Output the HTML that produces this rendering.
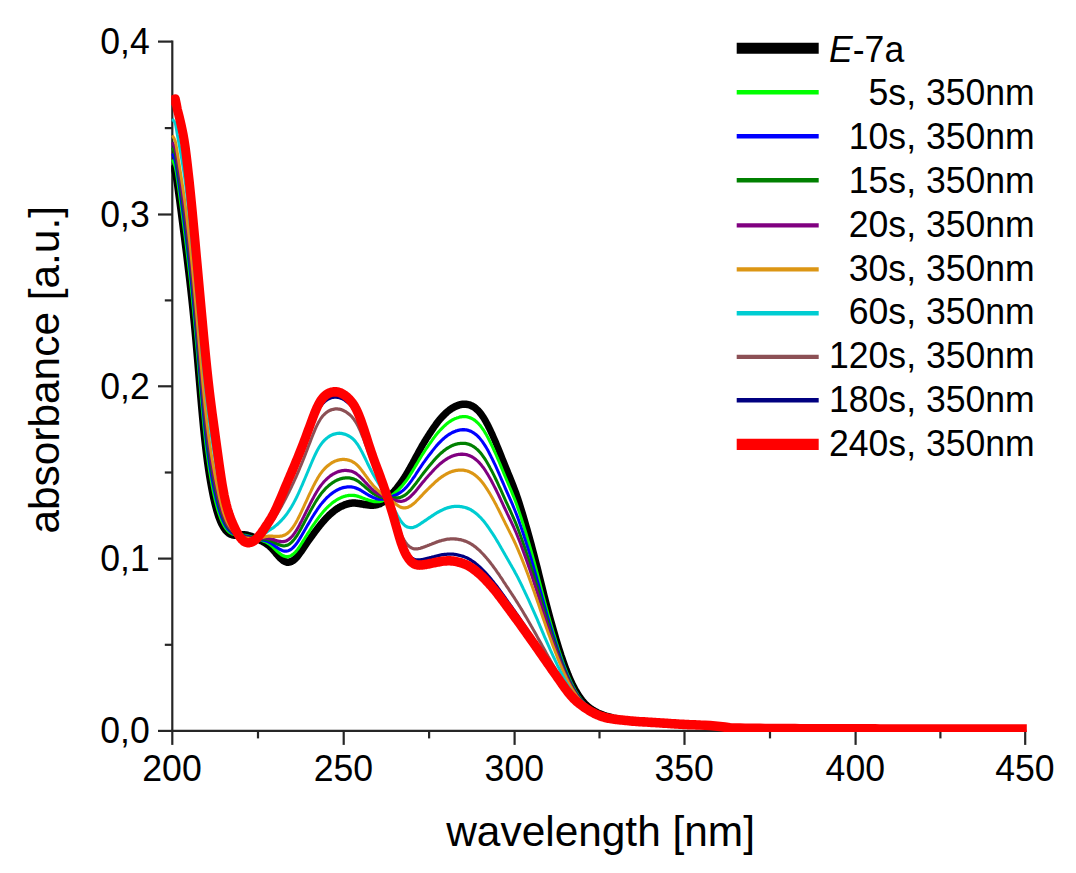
<!DOCTYPE html>
<html><head><meta charset="utf-8"><title>UV/Vis spectra</title>
<style>
html,body{margin:0;padding:0;background:#fff;}
body{width:1076px;height:873px;overflow:hidden;position:relative;}
svg text{font-family:"Liberation Sans",sans-serif;fill:#000;white-space:pre;}
</style></head><body>
<svg width="1076" height="873" viewBox="0 0 1076 873" style="position:absolute;left:0;top:0">
<rect width="1076" height="873" fill="#fff"/>
<g stroke="#262626" stroke-width="2.2" fill="none" stroke-linecap="butt">
<path d="M172.3,40.5 V732.0"/>
<path d="M171.20000000000002,730.9 H1026.3999999999999"/>
<path d="M172.3,730.9 v14"/>
<path d="M258.0,730.9 v7.5"/>
<path d="M343.7,730.9 v14"/>
<path d="M429.1,730.9 v7.5"/>
<path d="M514.6,730.9 v14"/>
<path d="M599.5,730.9 v7.5"/>
<path d="M684.5,730.9 v14"/>
<path d="M770.0,730.9 v7.5"/>
<path d="M855.6,730.9 v14"/>
<path d="M940.4,730.9 v7.5"/>
<path d="M1025.2,730.9 v14"/>
<path d="M172.3,730.9 h-14.3"/>
<path d="M172.3,644.8 h-7.5"/>
<path d="M172.3,558.6 h-14.3"/>
<path d="M172.3,472.5 h-7.5"/>
<path d="M172.3,386.3 h-14.3"/>
<path d="M172.3,300.4 h-7.5"/>
<path d="M172.3,214.5 h-14.3"/>
<path d="M172.3,128.1 h-7.5"/>
<path d="M172.3,41.6 h-14.3"/>
</g>
<clipPath id="cp"><rect x="171.2" y="30" width="855.6" height="702"/></clipPath>
<g clip-path="url(#cp)"><g fill="none" stroke-linejoin="round" stroke-linecap="butt" style="filter:blur(0.4px)">
<path transform="scale(1,1.13)" d="M172.3,146.0 L173.3,148.0 L174.3,150.5 L175.3,153.7 L176.3,158.1 L177.3,163.9 L178.3,170.4 L179.3,176.9 L180.3,183.6 L181.3,190.4 L182.3,197.2 L183.3,204.1 L184.3,211.0 L185.3,218.0 L186.3,225.0 L187.3,232.2 L188.3,239.6 L189.3,247.1 L190.3,254.8 L191.3,262.8 L192.3,271.2 L193.3,279.9 L194.3,289.1 L195.3,298.6 L196.3,308.4 L197.3,318.6 L198.3,329.0 L199.3,339.4 L200.3,349.8 L201.3,360.0 L202.3,369.8 L203.3,379.0 L204.3,387.6 L205.3,395.5 L206.3,402.8 L207.3,409.5 L208.3,415.6 L209.3,421.3 L210.3,426.6 L211.3,431.5 L212.3,436.1 L213.3,440.3 L214.3,444.2 L215.3,447.8 L216.3,451.1 L217.3,454.0 L218.3,456.8 L219.3,459.2 L220.3,461.3 L221.3,463.3 L222.3,465.0 L223.3,466.5 L224.3,467.8 L225.3,469.0 L226.3,470.0 L227.3,470.8 L228.3,471.6 L229.3,472.2 L230.3,472.7 L231.3,473.0 L232.3,473.3 L233.3,473.5 L234.3,473.6 L235.3,473.6 L236.3,473.6 L237.3,473.5 L238.3,473.5 L239.3,473.4 L240.3,473.3 L241.3,473.2 L242.3,473.2 L243.3,473.2 L244.3,473.2 L245.3,473.4 L246.3,473.5 L247.3,473.7 L248.3,473.9 L249.3,474.2 L250.3,474.4 L251.3,474.7 L252.3,475.0 L253.3,475.4 L254.3,475.7 L255.3,476.1 L256.3,476.4 L257.3,476.8 L258.3,477.2 L259.3,477.7 L260.3,478.1 L261.3,478.6 L262.3,479.0 L263.3,479.5 L264.3,480.0 L265.3,480.6 L266.3,481.2 L267.3,481.8 L268.3,482.5 L269.3,483.2 L270.3,484.0 L271.3,484.9 L272.3,485.9 L273.3,486.9 L274.3,487.9 L275.3,489.0 L276.3,490.0 L277.3,491.0 L278.3,492.0 L279.3,493.0 L280.3,493.9 L281.3,494.7 L282.3,495.4 L283.3,496.1 L284.3,496.6 L285.3,497.0 L286.3,497.3 L287.3,497.5 L288.3,497.5 L289.3,497.4 L290.3,497.2 L291.3,496.9 L292.3,496.4 L293.3,495.9 L294.3,495.2 L295.3,494.4 L296.3,493.5 L297.3,492.6 L298.3,491.5 L299.3,490.3 L300.3,489.1 L301.3,487.9 L302.3,486.6 L303.3,485.3 L304.3,484.0 L305.3,482.7 L306.3,481.4 L307.3,480.1 L308.3,478.8 L309.3,477.6 L310.3,476.3 L311.3,475.1 L312.3,473.9 L313.3,472.7 L314.3,471.5 L315.3,470.3 L316.3,469.1 L317.3,467.9 L318.3,466.8 L319.3,465.7 L320.3,464.5 L321.3,463.5 L322.3,462.4 L323.3,461.4 L324.3,460.4 L325.3,459.4 L326.3,458.4 L327.3,457.5 L328.3,456.6 L329.3,455.8 L330.3,455.0 L331.3,454.2 L332.3,453.4 L333.3,452.7 L334.3,452.0 L335.3,451.3 L336.3,450.7 L337.3,450.1 L338.3,449.6 L339.3,449.0 L340.3,448.5 L341.3,448.1 L342.3,447.7 L343.3,447.3 L344.3,446.9 L345.3,446.6 L346.3,446.3 L347.3,446.0 L348.3,445.8 L349.3,445.6 L350.3,445.4 L351.3,445.3 L352.3,445.2 L353.3,445.2 L354.3,445.2 L355.3,445.2 L356.3,445.3 L357.3,445.4 L358.3,445.5 L359.3,445.6 L360.3,445.8 L361.3,445.9 L362.3,446.1 L363.3,446.2 L364.3,446.4 L365.3,446.5 L366.3,446.6 L367.3,446.7 L368.3,446.8 L369.3,446.9 L370.3,447.0 L371.3,447.0 L372.3,447.0 L373.3,447.0 L374.3,446.9 L375.3,446.8 L376.3,446.7 L377.3,446.5 L378.3,446.2 L379.3,445.9 L380.3,445.6 L381.3,445.1 L382.3,444.6 L383.3,444.0 L384.3,443.3 L385.3,442.6 L386.3,441.8 L387.3,441.0 L388.3,440.2 L389.3,439.3 L390.3,438.4 L391.3,437.5 L392.3,436.6 L393.3,435.6 L394.3,434.6 L395.3,433.5 L396.3,432.5 L397.3,431.3 L398.3,430.2 L399.3,429.0 L400.3,427.8 L401.3,426.5 L402.3,425.2 L403.3,423.9 L404.3,422.6 L405.3,421.2 L406.3,419.7 L407.3,418.3 L408.3,416.7 L409.3,415.2 L410.3,413.6 L411.3,412.0 L412.3,410.4 L413.3,408.7 L414.3,407.1 L415.3,405.4 L416.3,403.8 L417.3,402.2 L418.3,400.5 L419.3,398.9 L420.3,397.3 L421.3,395.7 L422.3,394.2 L423.3,392.7 L424.3,391.2 L425.3,389.8 L426.3,388.3 L427.3,387.0 L428.3,385.6 L429.3,384.2 L430.3,382.9 L431.3,381.5 L432.3,380.2 L433.3,378.9 L434.3,377.6 L435.3,376.4 L436.3,375.1 L437.3,374.0 L438.3,372.8 L439.3,371.7 L440.3,370.7 L441.3,369.7 L442.3,368.7 L443.3,367.8 L444.3,366.9 L445.3,366.0 L446.3,365.2 L447.3,364.4 L448.3,363.7 L449.3,363.0 L450.3,362.3 L451.3,361.7 L452.3,361.2 L453.3,360.6 L454.3,360.2 L455.3,359.7 L456.3,359.3 L457.3,359.0 L458.3,358.6 L459.3,358.4 L460.3,358.1 L461.3,357.9 L462.3,357.8 L463.3,357.7 L464.3,357.7 L465.3,357.7 L466.3,357.8 L467.3,357.9 L468.3,358.1 L469.3,358.3 L470.3,358.6 L471.3,359.0 L472.3,359.4 L473.3,359.9 L474.3,360.5 L475.3,361.1 L476.3,361.9 L477.3,362.7 L478.3,363.5 L479.3,364.5 L480.3,365.6 L481.3,366.7 L482.3,368.0 L483.3,369.3 L484.3,370.7 L485.3,372.2 L486.3,373.8 L487.3,375.4 L488.3,377.2 L489.3,378.9 L490.3,380.8 L491.3,382.7 L492.3,384.6 L493.3,386.6 L494.3,388.6 L495.3,390.7 L496.3,392.7 L497.3,394.9 L498.3,397.0 L499.3,399.2 L500.3,401.4 L501.3,403.6 L502.3,405.9 L503.3,408.1 L504.3,410.3 L505.3,412.5 L506.3,414.7 L507.3,416.8 L508.3,419.0 L509.3,421.1 L510.3,423.3 L511.3,425.5 L512.3,427.7 L513.3,429.9 L514.3,432.2 L515.3,434.6 L516.3,437.0 L517.3,439.6 L518.3,442.2 L519.3,445.0 L520.3,447.8 L521.3,450.7 L522.3,453.6 L523.3,456.5 L524.3,459.5 L525.3,462.5 L526.3,465.6 L527.3,468.6 L528.3,471.8 L529.3,474.9 L530.3,478.2 L531.3,481.4 L532.3,484.8 L533.3,488.1 L534.3,491.5 L535.3,494.9 L536.3,498.4 L537.3,501.9 L538.3,505.4 L539.3,509.0 L540.3,512.6 L541.3,516.2 L542.3,519.8 L543.3,523.3 L544.3,526.9 L545.3,530.3 L546.3,533.8 L547.3,537.2 L548.3,540.5 L549.3,543.8 L550.3,547.1 L551.3,550.3 L552.3,553.5 L553.3,556.6 L554.3,559.7 L555.3,562.8 L556.3,565.8 L557.3,568.8 L558.3,571.7 L559.3,574.5 L560.3,577.3 L561.3,580.1 L562.3,582.7 L563.3,585.3 L564.3,587.8 L565.3,590.2 L566.3,592.6 L567.3,594.8 L568.3,597.1 L569.3,599.2 L570.3,601.2 L571.3,603.2 L572.3,605.1 L573.3,606.9 L574.3,608.7 L575.3,610.3 L576.3,611.9 L577.3,613.4 L578.3,614.9 L579.3,616.2 L580.3,617.5 L581.3,618.7 L582.3,619.9 L583.3,621.0 L584.3,622.0 L585.3,623.0 L586.3,623.9 L587.3,624.7 L588.3,625.5 L589.3,626.2 L590.3,626.9 L591.3,627.5 L592.3,628.1 L593.3,628.7 L594.3,629.2 L595.3,629.7 L596.3,630.2 L597.3,630.6 L598.3,631.1 L599.3,631.5 L600.3,631.8 L601.3,632.2 L602.3,632.5 L603.3,632.9 L604.3,633.2 L605.3,633.5 L606.3,633.8 L607.3,634.0 L608.3,634.3 L609.3,634.5 L610.3,634.8 L611.3,635.0 L612.3,635.2 L613.3,635.5 L614.3,635.7 L615.3,635.9 L616.3,636.1 L617.3,636.3 L618.3,636.4 L619.3,636.6 L620.3,636.8 L621.3,637.0 L622.3,637.1 L623.3,637.3 L624.3,637.4 L625.3,637.6 L626.3,637.7 L627.3,637.8 L628.3,637.9 L629.3,638.0 L630.3,638.1 L631.3,638.2 L632.3,638.3 L633.3,638.3 L634.3,638.4 L635.3,638.5 L636.3,638.5 L637.3,638.6 L638.3,638.6 L639.3,638.7 L640.3,638.8 L641.3,638.8 L642.3,638.9 L643.3,638.9 L644.3,639.0 L645.3,639.0 L646.3,639.1 L647.3,639.1 L648.3,639.2 L649.3,639.3 L650.3,639.3 L651.3,639.4 L652.3,639.4 L653.3,639.5 L654.3,639.5 L655.3,639.6 L656.3,639.6 L657.3,639.7 L658.3,639.7 L659.3,639.8 L660.3,639.8 L661.3,639.9 L662.3,640.0 L663.3,640.0 L664.3,640.1 L665.3,640.1 L666.3,640.2 L667.3,640.2 L668.3,640.3 L669.3,640.3 L670.3,640.4 L671.3,640.4 L672.3,640.5 L673.3,640.5 L674.3,640.6 L675.3,640.6 L676.3,640.7 L677.3,640.8 L678.3,640.8 L679.3,640.9 L680.3,640.9 L681.3,641.0 L682.3,641.0 L683.3,641.1 L684.3,641.1 L685.3,641.1 L686.3,641.2 L687.3,641.2 L688.3,641.3 L689.3,641.3 L690.3,641.3 L691.3,641.4 L692.3,641.4 L693.3,641.4 L694.3,641.4 L695.3,641.5 L696.3,641.5 L697.3,641.5 L698.3,641.5 L699.3,641.5 L700.0,641.6 L705.0,641.8 L710.0,642.1 L715.0,642.6 L720.0,643.0 L725.0,643.5 L730.0,643.9 L735.0,644.2 L740.0,644.3 L745.0,644.4 L750.0,644.5 L755.0,644.6 L760.0,644.6 L765.0,644.7 L770.0,644.7 L775.0,644.8 L780.0,644.8 L785.0,644.8 L790.0,644.8 L795.0,644.8 L800.0,644.8 L805.0,644.8 L810.0,644.9 L815.0,644.9 L820.0,644.9 L825.0,644.9 L830.0,644.9 L835.0,644.9 L840.0,644.9 L845.0,644.9 L850.0,645.0 L855.0,645.0 L860.0,645.0 L865.0,645.0 L870.0,645.0 L875.0,645.0 L880.0,645.0 L885.0,645.0 L890.0,645.0 L895.0,645.0 L900.0,645.0 L905.0,645.1 L910.0,645.1 L915.0,645.1 L920.0,645.1 L925.0,645.1 L930.0,645.1 L935.0,645.1 L940.0,645.1 L945.0,645.1 L950.0,645.1 L955.0,645.1 L960.0,645.1 L965.0,645.1 L970.0,645.1 L975.0,645.1 L980.0,645.1 L985.0,645.1 L990.0,645.2 L995.0,645.2 L1000.0,645.2 L1005.0,645.2 L1010.0,645.2 L1015.0,645.2 L1020.0,645.2 L1025.0,645.2 L1027.0,645.2" stroke="#000000" stroke-width="6.7"/>
<path transform="scale(1,1.13)" d="M172.3,141.1 L173.3,143.0 L174.3,145.3 L175.3,148.3 L176.3,152.7 L177.3,158.5 L178.3,164.7 L179.3,171.1 L180.3,177.6 L181.3,184.2 L182.3,190.8 L183.3,197.5 L184.3,204.2 L185.3,211.1 L186.3,218.2 L187.3,225.4 L188.3,232.8 L189.3,240.3 L190.3,248.1 L191.3,256.2 L192.3,264.6 L193.3,273.4 L194.3,282.6 L195.3,292.1 L196.3,302.0 L197.3,312.1 L198.3,322.4 L199.3,332.8 L200.3,343.2 L201.3,353.3 L202.3,363.0 L203.3,372.3 L204.3,381.0 L205.3,389.0 L206.3,396.4 L207.3,403.2 L208.3,409.5 L209.3,415.4 L210.3,420.8 L211.3,425.9 L212.3,430.6 L213.3,435.0 L214.3,439.1 L215.3,442.9 L216.3,446.5 L217.3,449.7 L218.3,452.7 L219.3,455.4 L220.3,457.9 L221.3,460.2 L222.3,462.2 L223.3,463.9 L224.3,465.5 L225.3,466.9 L226.3,468.1 L227.3,469.2 L228.3,470.1 L229.3,470.9 L230.3,471.5 L231.3,472.0 L232.3,472.5 L233.3,472.8 L234.3,473.0 L235.3,473.2 L236.3,473.3 L237.3,473.4 L238.3,473.4 L239.3,473.5 L240.3,473.5 L241.3,473.5 L242.3,473.5 L243.3,473.6 L244.3,473.7 L245.3,473.8 L246.3,474.0 L247.3,474.2 L248.3,474.4 L249.3,474.6 L250.3,474.9 L251.3,475.1 L252.3,475.4 L253.3,475.6 L254.3,475.9 L255.3,476.2 L256.3,476.5 L257.3,476.8 L258.3,477.1 L259.3,477.4 L260.3,477.7 L261.3,478.0 L262.3,478.4 L263.3,478.7 L264.3,479.1 L265.3,479.5 L266.3,479.9 L267.3,480.4 L268.3,481.0 L269.3,481.6 L270.3,482.2 L271.3,482.9 L272.3,483.7 L273.3,484.6 L274.3,485.4 L275.3,486.3 L276.3,487.1 L277.3,488.0 L278.3,488.8 L279.3,489.5 L280.3,490.2 L281.3,490.9 L282.3,491.4 L283.3,491.9 L284.3,492.2 L285.3,492.5 L286.3,492.6 L287.3,492.7 L288.3,492.6 L289.3,492.3 L290.3,492.0 L291.3,491.5 L292.3,490.9 L293.3,490.3 L294.3,489.5 L295.3,488.6 L296.3,487.6 L297.3,486.5 L298.3,485.3 L299.3,484.0 L300.3,482.7 L301.3,481.3 L302.3,479.9 L303.3,478.5 L304.3,477.1 L305.3,475.6 L306.3,474.2 L307.3,472.8 L308.3,471.4 L309.3,470.1 L310.3,468.7 L311.3,467.3 L312.3,466.0 L313.3,464.7 L314.3,463.4 L315.3,462.1 L316.3,460.8 L317.3,459.6 L318.3,458.4 L319.3,457.2 L320.3,456.1 L321.3,454.9 L322.3,453.9 L323.3,452.8 L324.3,451.8 L325.3,450.9 L326.3,449.9 L327.3,449.0 L328.3,448.2 L329.3,447.4 L330.3,446.6 L331.3,445.8 L332.3,445.1 L333.3,444.4 L334.3,443.8 L335.3,443.2 L336.3,442.6 L337.3,442.1 L338.3,441.6 L339.3,441.1 L340.3,440.7 L341.3,440.3 L342.3,439.9 L343.3,439.6 L344.3,439.3 L345.3,439.1 L346.3,438.8 L347.3,438.7 L348.3,438.5 L349.3,438.4 L350.3,438.3 L351.3,438.3 L352.3,438.3 L353.3,438.4 L354.3,438.5 L355.3,438.6 L356.3,438.8 L357.3,439.0 L358.3,439.3 L359.3,439.6 L360.3,439.9 L361.3,440.2 L362.3,440.6 L363.3,440.9 L364.3,441.2 L365.3,441.6 L366.3,441.9 L367.3,442.2 L368.3,442.5 L369.3,442.8 L370.3,443.1 L371.3,443.3 L372.3,443.5 L373.3,443.7 L374.3,443.9 L375.3,444.0 L376.3,444.0 L377.3,444.0 L378.3,444.0 L379.3,443.9 L380.3,443.7 L381.3,443.5 L382.3,443.2 L383.3,442.8 L384.3,442.4 L385.3,442.0 L386.3,441.5 L387.3,440.9 L388.3,440.3 L389.3,439.7 L390.3,439.1 L391.3,438.5 L392.3,437.9 L393.3,437.2 L394.3,436.6 L395.3,435.8 L396.3,435.1 L397.3,434.3 L398.3,433.5 L399.3,432.6 L400.3,431.7 L401.3,430.8 L402.3,429.8 L403.3,428.7 L404.3,427.6 L405.3,426.5 L406.3,425.3 L407.3,424.1 L408.3,422.8 L409.3,421.4 L410.3,420.0 L411.3,418.6 L412.3,417.2 L413.3,415.7 L414.3,414.3 L415.3,412.8 L416.3,411.3 L417.3,409.8 L418.3,408.3 L419.3,406.8 L420.3,405.3 L421.3,403.9 L422.3,402.4 L423.3,401.0 L424.3,399.7 L425.3,398.3 L426.3,397.0 L427.3,395.7 L428.3,394.4 L429.3,393.2 L430.3,391.9 L431.3,390.7 L432.3,389.4 L433.3,388.2 L434.3,387.0 L435.3,385.8 L436.3,384.7 L437.3,383.6 L438.3,382.5 L439.3,381.5 L440.3,380.5 L441.3,379.6 L442.3,378.7 L443.3,377.8 L444.3,377.0 L445.3,376.2 L446.3,375.4 L447.3,374.7 L448.3,374.0 L449.3,373.4 L450.3,372.8 L451.3,372.2 L452.3,371.7 L453.3,371.2 L454.3,370.8 L455.3,370.4 L456.3,370.1 L457.3,369.7 L458.3,369.5 L459.3,369.2 L460.3,369.0 L461.3,368.9 L462.3,368.8 L463.3,368.7 L464.3,368.7 L465.3,368.7 L466.3,368.8 L467.3,369.0 L468.3,369.2 L469.3,369.5 L470.3,369.8 L471.3,370.2 L472.3,370.6 L473.3,371.1 L474.3,371.7 L475.3,372.3 L476.3,373.1 L477.3,373.9 L478.3,374.7 L479.3,375.7 L480.3,376.7 L481.3,377.9 L482.3,379.1 L483.3,380.4 L484.3,381.7 L485.3,383.2 L486.3,384.7 L487.3,386.3 L488.3,388.0 L489.3,389.7 L490.3,391.5 L491.3,393.3 L492.3,395.2 L493.3,397.1 L494.3,399.0 L495.3,401.0 L496.3,403.0 L497.3,405.0 L498.3,407.1 L499.3,409.2 L500.3,411.3 L501.3,413.5 L502.3,415.6 L503.3,417.8 L504.3,419.9 L505.3,422.0 L506.3,424.1 L507.3,426.2 L508.3,428.3 L509.3,430.4 L510.3,432.5 L511.3,434.5 L512.3,436.7 L513.3,438.8 L514.3,441.0 L515.3,443.3 L516.3,445.7 L517.3,448.1 L518.3,450.7 L519.3,453.3 L520.3,456.0 L521.3,458.7 L522.3,461.5 L523.3,464.3 L524.3,467.2 L525.3,470.0 L526.3,472.9 L527.3,475.9 L528.3,478.9 L529.3,481.9 L530.3,485.0 L531.3,488.1 L532.3,491.2 L533.3,494.4 L534.3,497.6 L535.3,500.9 L536.3,504.2 L537.3,507.5 L538.3,510.9 L539.3,514.3 L540.3,517.7 L541.3,521.1 L542.3,524.5 L543.3,527.9 L544.3,531.2 L545.3,534.5 L546.3,537.8 L547.3,541.0 L548.3,544.2 L549.3,547.4 L550.3,550.5 L551.3,553.5 L552.3,556.6 L553.3,559.5 L554.3,562.5 L555.3,565.4 L556.3,568.3 L557.3,571.1 L558.3,573.9 L559.3,576.7 L560.3,579.3 L561.3,581.9 L562.3,584.5 L563.3,587.0 L564.3,589.4 L565.3,591.7 L566.3,594.0 L567.3,596.2 L568.3,598.3 L569.3,600.3 L570.3,602.3 L571.3,604.2 L572.3,606.0 L573.3,607.8 L574.3,609.5 L575.3,611.1 L576.3,612.6 L577.3,614.0 L578.3,615.4 L579.3,616.7 L580.3,618.0 L581.3,619.2 L582.3,620.3 L583.3,621.3 L584.3,622.3 L585.3,623.3 L586.3,624.1 L587.3,624.9 L588.3,625.7 L589.3,626.4 L590.3,627.1 L591.3,627.7 L592.3,628.3 L593.3,628.8 L594.3,629.4 L595.3,629.9 L596.3,630.3 L597.3,630.8 L598.3,631.2 L599.3,631.6 L600.3,632.0 L601.3,632.3 L602.3,632.7 L603.3,633.0 L604.3,633.3 L605.3,633.6 L606.3,633.9 L607.3,634.1 L608.3,634.4 L609.3,634.6 L610.3,634.9 L611.3,635.1 L612.3,635.3 L613.3,635.5 L614.3,635.7 L615.3,635.9 L616.3,636.1 L617.3,636.3 L618.3,636.5 L619.3,636.7 L620.3,636.8 L621.3,637.0 L622.3,637.1 L623.3,637.3 L624.3,637.4 L625.3,637.6 L626.3,637.7 L627.3,637.8 L628.3,637.9 L629.3,638.0 L630.3,638.1 L631.3,638.2 L632.3,638.3 L633.3,638.3 L634.3,638.4 L635.3,638.5 L636.3,638.5 L637.3,638.6 L638.3,638.6 L639.3,638.7 L640.3,638.8 L641.3,638.8 L642.3,638.9 L643.3,638.9 L644.3,639.0 L645.3,639.0 L646.3,639.1 L647.3,639.1 L648.3,639.2 L649.3,639.2 L650.3,639.3 L651.3,639.4 L652.3,639.4 L653.3,639.5 L654.3,639.5 L655.3,639.6 L656.3,639.6 L657.3,639.7 L658.3,639.7 L659.3,639.8 L660.3,639.8 L661.3,639.9 L662.3,639.9 L663.3,640.0 L664.3,640.1 L665.3,640.1 L666.3,640.2 L667.3,640.2 L668.3,640.3 L669.3,640.3 L670.3,640.4 L671.3,640.4 L672.3,640.5 L673.3,640.5 L674.3,640.6 L675.3,640.6 L676.3,640.7 L677.3,640.8 L678.3,640.8 L679.3,640.9 L680.3,640.9 L681.3,641.0 L682.3,641.0 L683.3,641.1 L684.3,641.1 L685.3,641.1 L686.3,641.2 L687.3,641.2 L688.3,641.3 L689.3,641.3 L690.3,641.3 L691.3,641.4 L692.3,641.4 L693.3,641.4 L694.3,641.4 L695.3,641.5 L696.3,641.5 L697.3,641.5 L698.3,641.5 L699.3,641.5 L700.0,641.6 L705.0,641.8 L710.0,642.1 L715.0,642.6 L720.0,643.0 L725.0,643.5 L730.0,643.9 L735.0,644.2 L740.0,644.3 L745.0,644.4 L750.0,644.5 L755.0,644.6 L760.0,644.6 L765.0,644.7 L770.0,644.7 L775.0,644.8 L780.0,644.8 L785.0,644.8 L790.0,644.8 L795.0,644.8 L800.0,644.8 L805.0,644.8 L810.0,644.9 L815.0,644.9 L820.0,644.9 L825.0,644.9 L830.0,644.9 L835.0,644.9 L840.0,644.9 L845.0,644.9 L850.0,645.0 L855.0,645.0 L860.0,645.0 L865.0,645.0 L870.0,645.0 L875.0,645.0 L880.0,645.0 L885.0,645.0 L890.0,645.0 L895.0,645.0 L900.0,645.0 L905.0,645.1 L910.0,645.1 L915.0,645.1 L920.0,645.1 L925.0,645.1 L930.0,645.1 L935.0,645.1 L940.0,645.1 L945.0,645.1 L950.0,645.1 L955.0,645.1 L960.0,645.1 L965.0,645.1 L970.0,645.1 L975.0,645.1 L980.0,645.1 L985.0,645.1 L990.0,645.2 L995.0,645.2 L1000.0,645.2 L1005.0,645.2 L1010.0,645.2 L1015.0,645.2 L1020.0,645.2 L1025.0,645.2 L1027.0,645.2" stroke="#00ff00" stroke-width="2.9"/>
<path transform="scale(1,1.13)" d="M172.3,135.9 L173.3,137.7 L174.3,139.8 L175.3,142.6 L176.3,147.1 L177.3,152.8 L178.3,158.8 L179.3,164.9 L180.3,171.2 L181.3,177.6 L182.3,184.0 L183.3,190.5 L184.3,197.1 L185.3,203.9 L186.3,211.0 L187.3,218.2 L188.3,225.6 L189.3,233.2 L190.3,241.1 L191.3,249.3 L192.3,257.8 L193.3,266.6 L194.3,275.8 L195.3,285.3 L196.3,295.2 L197.3,305.2 L198.3,315.5 L199.3,325.9 L200.3,336.2 L201.3,346.2 L202.3,356.0 L203.3,365.3 L204.3,374.0 L205.3,382.1 L206.3,389.7 L207.3,396.7 L208.3,403.1 L209.3,409.2 L210.3,414.8 L211.3,420.0 L212.3,424.9 L213.3,429.5 L214.3,433.8 L215.3,437.8 L216.3,441.6 L217.3,445.2 L218.3,448.5 L219.3,451.5 L220.3,454.3 L221.3,456.9 L222.3,459.2 L223.3,461.3 L224.3,463.1 L225.3,464.8 L226.3,466.2 L227.3,467.5 L228.3,468.6 L229.3,469.5 L230.3,470.3 L231.3,471.0 L232.3,471.6 L233.3,472.0 L234.3,472.4 L235.3,472.8 L236.3,473.0 L237.3,473.2 L238.3,473.4 L239.3,473.5 L240.3,473.7 L241.3,473.8 L242.3,473.9 L243.3,474.0 L244.3,474.2 L245.3,474.4 L246.3,474.5 L247.3,474.7 L248.3,474.9 L249.3,475.1 L250.3,475.3 L251.3,475.5 L252.3,475.7 L253.3,475.9 L254.3,476.1 L255.3,476.3 L256.3,476.5 L257.3,476.7 L258.3,476.9 L259.3,477.1 L260.3,477.3 L261.3,477.5 L262.3,477.7 L263.3,477.9 L264.3,478.1 L265.3,478.4 L266.3,478.7 L267.3,479.0 L268.3,479.4 L269.3,479.8 L270.3,480.3 L271.3,480.9 L272.3,481.5 L273.3,482.1 L274.3,482.8 L275.3,483.4 L276.3,484.1 L277.3,484.7 L278.3,485.3 L279.3,485.9 L280.3,486.4 L281.3,486.8 L282.3,487.2 L283.3,487.5 L284.3,487.7 L285.3,487.8 L286.3,487.8 L287.3,487.6 L288.3,487.4 L289.3,487.0 L290.3,486.5 L291.3,485.9 L292.3,485.2 L293.3,484.4 L294.3,483.4 L295.3,482.4 L296.3,481.3 L297.3,480.1 L298.3,478.8 L299.3,477.4 L300.3,475.9 L301.3,474.4 L302.3,472.9 L303.3,471.4 L304.3,469.8 L305.3,468.3 L306.3,466.7 L307.3,465.2 L308.3,463.7 L309.3,462.2 L310.3,460.7 L311.3,459.2 L312.3,457.7 L313.3,456.3 L314.3,454.9 L315.3,453.5 L316.3,452.2 L317.3,450.8 L318.3,449.6 L319.3,448.3 L320.3,447.1 L321.3,446.0 L322.3,444.9 L323.3,443.9 L324.3,442.9 L325.3,441.9 L326.3,441.0 L327.3,440.1 L328.3,439.3 L329.3,438.5 L330.3,437.8 L331.3,437.1 L332.3,436.4 L333.3,435.7 L334.3,435.2 L335.3,434.6 L336.3,434.1 L337.3,433.6 L338.3,433.2 L339.3,432.8 L340.3,432.4 L341.3,432.1 L342.3,431.8 L343.3,431.5 L344.3,431.3 L345.3,431.2 L346.3,431.0 L347.3,430.9 L348.3,430.9 L349.3,430.8 L350.3,430.8 L351.3,430.9 L352.3,431.0 L353.3,431.2 L354.3,431.4 L355.3,431.7 L356.3,432.0 L357.3,432.4 L358.3,432.8 L359.3,433.2 L360.3,433.7 L361.3,434.2 L362.3,434.8 L363.3,435.3 L364.3,435.9 L365.3,436.4 L366.3,437.0 L367.3,437.5 L368.3,438.0 L369.3,438.6 L370.3,439.0 L371.3,439.5 L372.3,439.9 L373.3,440.3 L374.3,440.6 L375.3,440.9 L376.3,441.2 L377.3,441.4 L378.3,441.6 L379.3,441.7 L380.3,441.8 L381.3,441.8 L382.3,441.7 L383.3,441.6 L384.3,441.5 L385.3,441.3 L386.3,441.1 L387.3,440.8 L388.3,440.5 L389.3,440.2 L390.3,439.9 L391.3,439.6 L392.3,439.3 L393.3,439.0 L394.3,438.6 L395.3,438.2 L396.3,437.8 L397.3,437.4 L398.3,436.9 L399.3,436.4 L400.3,435.8 L401.3,435.2 L402.3,434.5 L403.3,433.8 L404.3,433.0 L405.3,432.1 L406.3,431.2 L407.3,430.2 L408.3,429.1 L409.3,428.0 L410.3,426.8 L411.3,425.6 L412.3,424.4 L413.3,423.1 L414.3,421.8 L415.3,420.5 L416.3,419.1 L417.3,417.8 L418.3,416.4 L419.3,415.1 L420.3,413.8 L421.3,412.4 L422.3,411.1 L423.3,409.8 L424.3,408.6 L425.3,407.3 L426.3,406.1 L427.3,404.9 L428.3,403.7 L429.3,402.6 L430.3,401.4 L431.3,400.3 L432.3,399.1 L433.3,398.0 L434.3,396.9 L435.3,395.8 L436.3,394.7 L437.3,393.7 L438.3,392.7 L439.3,391.8 L440.3,390.9 L441.3,390.0 L442.3,389.2 L443.3,388.4 L444.3,387.6 L445.3,386.9 L446.3,386.2 L447.3,385.5 L448.3,384.9 L449.3,384.3 L450.3,383.8 L451.3,383.3 L452.3,382.8 L453.3,382.4 L454.3,382.0 L455.3,381.7 L456.3,381.3 L457.3,381.1 L458.3,380.8 L459.3,380.6 L460.3,380.5 L461.3,380.4 L462.3,380.3 L463.3,380.3 L464.3,380.3 L465.3,380.4 L466.3,380.5 L467.3,380.7 L468.3,380.9 L469.3,381.2 L470.3,381.5 L471.3,381.9 L472.3,382.4 L473.3,382.9 L474.3,383.5 L475.3,384.1 L476.3,384.8 L477.3,385.6 L478.3,386.5 L479.3,387.4 L480.3,388.5 L481.3,389.6 L482.3,390.7 L483.3,392.0 L484.3,393.3 L485.3,394.7 L486.3,396.2 L487.3,397.7 L488.3,399.3 L489.3,401.0 L490.3,402.7 L491.3,404.5 L492.3,406.2 L493.3,408.1 L494.3,409.9 L495.3,411.8 L496.3,413.8 L497.3,415.7 L498.3,417.7 L499.3,419.7 L500.3,421.8 L501.3,423.8 L502.3,425.9 L503.3,427.9 L504.3,430.0 L505.3,432.0 L506.3,434.1 L507.3,436.1 L508.3,438.1 L509.3,440.1 L510.3,442.1 L511.3,444.1 L512.3,446.1 L513.3,448.2 L514.3,450.3 L515.3,452.5 L516.3,454.8 L517.3,457.1 L518.3,459.5 L519.3,462.0 L520.3,464.6 L521.3,467.2 L522.3,469.8 L523.3,472.5 L524.3,475.2 L525.3,477.9 L526.3,480.7 L527.3,483.5 L528.3,486.3 L529.3,489.2 L530.3,492.1 L531.3,495.0 L532.3,498.0 L533.3,501.0 L534.3,504.1 L535.3,507.2 L536.3,510.3 L537.3,513.4 L538.3,516.6 L539.3,519.8 L540.3,523.0 L541.3,526.2 L542.3,529.4 L543.3,532.6 L544.3,535.8 L545.3,538.9 L546.3,542.0 L547.3,545.1 L548.3,548.1 L549.3,551.1 L550.3,554.0 L551.3,556.9 L552.3,559.8 L553.3,562.6 L554.3,565.4 L555.3,568.2 L556.3,570.9 L557.3,573.6 L558.3,576.3 L559.3,578.9 L560.3,581.5 L561.3,583.9 L562.3,586.4 L563.3,588.7 L564.3,591.0 L565.3,593.3 L566.3,595.4 L567.3,597.5 L568.3,599.6 L569.3,601.6 L570.3,603.4 L571.3,605.3 L572.3,607.0 L573.3,608.7 L574.3,610.3 L575.3,611.8 L576.3,613.3 L577.3,614.7 L578.3,616.0 L579.3,617.3 L580.3,618.5 L581.3,619.6 L582.3,620.7 L583.3,621.7 L584.3,622.6 L585.3,623.5 L586.3,624.4 L587.3,625.2 L588.3,625.9 L589.3,626.6 L590.3,627.3 L591.3,627.9 L592.3,628.5 L593.3,629.0 L594.3,629.5 L595.3,630.0 L596.3,630.5 L597.3,630.9 L598.3,631.4 L599.3,631.8 L600.3,632.1 L601.3,632.5 L602.3,632.8 L603.3,633.1 L604.3,633.4 L605.3,633.7 L606.3,634.0 L607.3,634.2 L608.3,634.5 L609.3,634.7 L610.3,635.0 L611.3,635.2 L612.3,635.4 L613.3,635.6 L614.3,635.8 L615.3,636.0 L616.3,636.2 L617.3,636.3 L618.3,636.5 L619.3,636.7 L620.3,636.8 L621.3,637.0 L622.3,637.2 L623.3,637.3 L624.3,637.4 L625.3,637.6 L626.3,637.7 L627.3,637.8 L628.3,637.9 L629.3,638.0 L630.3,638.1 L631.3,638.2 L632.3,638.3 L633.3,638.3 L634.3,638.4 L635.3,638.5 L636.3,638.5 L637.3,638.6 L638.3,638.6 L639.3,638.7 L640.3,638.7 L641.3,638.8 L642.3,638.9 L643.3,638.9 L644.3,639.0 L645.3,639.0 L646.3,639.1 L647.3,639.1 L648.3,639.2 L649.3,639.2 L650.3,639.3 L651.3,639.3 L652.3,639.4 L653.3,639.5 L654.3,639.5 L655.3,639.6 L656.3,639.6 L657.3,639.7 L658.3,639.7 L659.3,639.8 L660.3,639.8 L661.3,639.9 L662.3,639.9 L663.3,640.0 L664.3,640.0 L665.3,640.1 L666.3,640.2 L667.3,640.2 L668.3,640.3 L669.3,640.3 L670.3,640.4 L671.3,640.4 L672.3,640.5 L673.3,640.5 L674.3,640.6 L675.3,640.6 L676.3,640.7 L677.3,640.7 L678.3,640.8 L679.3,640.9 L680.3,640.9 L681.3,641.0 L682.3,641.0 L683.3,641.1 L684.3,641.1 L685.3,641.1 L686.3,641.2 L687.3,641.2 L688.3,641.3 L689.3,641.3 L690.3,641.3 L691.3,641.4 L692.3,641.4 L693.3,641.4 L694.3,641.4 L695.3,641.5 L696.3,641.5 L697.3,641.5 L698.3,641.5 L699.3,641.5 L700.0,641.6 L705.0,641.8 L710.0,642.1 L715.0,642.6 L720.0,643.0 L725.0,643.5 L730.0,643.9 L735.0,644.2 L740.0,644.3 L745.0,644.4 L750.0,644.5 L755.0,644.6 L760.0,644.6 L765.0,644.7 L770.0,644.7 L775.0,644.8 L780.0,644.8 L785.0,644.8 L790.0,644.8 L795.0,644.8 L800.0,644.8 L805.0,644.8 L810.0,644.9 L815.0,644.9 L820.0,644.9 L825.0,644.9 L830.0,644.9 L835.0,644.9 L840.0,644.9 L845.0,644.9 L850.0,645.0 L855.0,645.0 L860.0,645.0 L865.0,645.0 L870.0,645.0 L875.0,645.0 L880.0,645.0 L885.0,645.0 L890.0,645.0 L895.0,645.0 L900.0,645.0 L905.0,645.1 L910.0,645.1 L915.0,645.1 L920.0,645.1 L925.0,645.1 L930.0,645.1 L935.0,645.1 L940.0,645.1 L945.0,645.1 L950.0,645.1 L955.0,645.1 L960.0,645.1 L965.0,645.1 L970.0,645.1 L975.0,645.1 L980.0,645.1 L985.0,645.1 L990.0,645.2 L995.0,645.2 L1000.0,645.2 L1005.0,645.2 L1010.0,645.2 L1015.0,645.2 L1020.0,645.2 L1025.0,645.2 L1027.0,645.2" stroke="#0000ff" stroke-width="2.9"/>
<path transform="scale(1,1.13)" d="M172.3,130.5 L173.3,132.2 L174.3,134.2 L175.3,136.7 L176.3,141.2 L177.3,146.9 L178.3,152.7 L179.3,158.6 L180.3,164.6 L181.3,170.8 L182.3,177.0 L183.3,183.3 L184.3,189.8 L185.3,196.5 L186.3,203.5 L187.3,210.8 L188.3,218.3 L189.3,225.9 L190.3,233.8 L191.3,242.0 L192.3,250.6 L193.3,259.5 L194.3,268.7 L195.3,278.3 L196.3,288.1 L197.3,298.2 L198.3,308.4 L199.3,318.7 L200.3,328.9 L201.3,338.9 L202.3,348.7 L203.3,358.0 L204.3,366.8 L205.3,375.0 L206.3,382.7 L207.3,389.8 L208.3,396.5 L209.3,402.7 L210.3,408.5 L211.3,413.9 L212.3,418.9 L213.3,423.7 L214.3,428.3 L215.3,432.6 L216.3,436.6 L217.3,440.5 L218.3,444.1 L219.3,447.5 L220.3,450.6 L221.3,453.5 L222.3,456.1 L223.3,458.5 L224.3,460.7 L225.3,462.6 L226.3,464.2 L227.3,465.7 L228.3,467.0 L229.3,468.1 L230.3,469.1 L231.3,469.9 L232.3,470.6 L233.3,471.3 L234.3,471.8 L235.3,472.3 L236.3,472.7 L237.3,473.1 L238.3,473.4 L239.3,473.6 L240.3,473.9 L241.3,474.1 L242.3,474.3 L243.3,474.5 L244.3,474.7 L245.3,474.9 L246.3,475.1 L247.3,475.3 L248.3,475.5 L249.3,475.6 L250.3,475.8 L251.3,476.0 L252.3,476.1 L253.3,476.2 L254.3,476.3 L255.3,476.4 L256.3,476.5 L257.3,476.6 L258.3,476.7 L259.3,476.8 L260.3,476.8 L261.3,476.9 L262.3,477.0 L263.3,477.0 L264.3,477.1 L265.3,477.2 L266.3,477.4 L267.3,477.5 L268.3,477.8 L269.3,478.0 L270.3,478.4 L271.3,478.7 L272.3,479.1 L273.3,479.6 L274.3,480.0 L275.3,480.5 L276.3,481.0 L277.3,481.4 L278.3,481.8 L279.3,482.1 L280.3,482.4 L281.3,482.7 L282.3,482.9 L283.3,483.0 L284.3,483.0 L285.3,482.9 L286.3,482.7 L287.3,482.4 L288.3,482.0 L289.3,481.5 L290.3,480.8 L291.3,480.1 L292.3,479.2 L293.3,478.3 L294.3,477.2 L295.3,476.0 L296.3,474.8 L297.3,473.4 L298.3,472.0 L299.3,470.5 L300.3,468.9 L301.3,467.3 L302.3,465.6 L303.3,464.0 L304.3,462.3 L305.3,460.6 L306.3,458.9 L307.3,457.3 L308.3,455.6 L309.3,454.0 L310.3,452.4 L311.3,450.8 L312.3,449.2 L313.3,447.6 L314.3,446.1 L315.3,444.6 L316.3,443.2 L317.3,441.8 L318.3,440.4 L319.3,439.1 L320.3,437.9 L321.3,436.7 L322.3,435.6 L323.3,434.6 L324.3,433.6 L325.3,432.6 L326.3,431.7 L327.3,430.9 L328.3,430.1 L329.3,429.3 L330.3,428.6 L331.3,428.0 L332.3,427.3 L333.3,426.8 L334.3,426.2 L335.3,425.7 L336.3,425.3 L337.3,424.8 L338.3,424.5 L339.3,424.1 L340.3,423.8 L341.3,423.6 L342.3,423.4 L343.3,423.2 L344.3,423.1 L345.3,423.0 L346.3,422.9 L347.3,422.9 L348.3,422.9 L349.3,423.0 L350.3,423.1 L351.3,423.3 L352.3,423.5 L353.3,423.7 L354.3,424.1 L355.3,424.5 L356.3,424.9 L357.3,425.5 L358.3,426.0 L359.3,426.7 L360.3,427.3 L361.3,428.1 L362.3,428.8 L363.3,429.5 L364.3,430.3 L365.3,431.1 L366.3,431.9 L367.3,432.6 L368.3,433.4 L369.3,434.1 L370.3,434.8 L371.3,435.5 L372.3,436.1 L373.3,436.7 L374.3,437.3 L375.3,437.8 L376.3,438.3 L377.3,438.7 L378.3,439.1 L379.3,439.5 L380.3,439.8 L381.3,440.0 L382.3,440.2 L383.3,440.4 L384.3,440.5 L385.3,440.6 L386.3,440.7 L387.3,440.7 L388.3,440.7 L389.3,440.7 L390.3,440.7 L391.3,440.7 L392.3,440.8 L393.3,440.8 L394.3,440.8 L395.3,440.7 L396.3,440.7 L397.3,440.6 L398.3,440.5 L399.3,440.3 L400.3,440.1 L401.3,439.8 L402.3,439.5 L403.3,439.0 L404.3,438.5 L405.3,437.9 L406.3,437.3 L407.3,436.5 L408.3,435.7 L409.3,434.8 L410.3,433.9 L411.3,432.9 L412.3,431.8 L413.3,430.7 L414.3,429.6 L415.3,428.5 L416.3,427.3 L417.3,426.1 L418.3,424.9 L419.3,423.7 L420.3,422.5 L421.3,421.3 L422.3,420.1 L423.3,418.9 L424.3,417.8 L425.3,416.7 L426.3,415.6 L427.3,414.5 L428.3,413.4 L429.3,412.3 L430.3,411.3 L431.3,410.2 L432.3,409.2 L433.3,408.1 L434.3,407.1 L435.3,406.1 L436.3,405.1 L437.3,404.2 L438.3,403.3 L439.3,402.4 L440.3,401.6 L441.3,400.8 L442.3,400.1 L443.3,399.3 L444.3,398.6 L445.3,398.0 L446.3,397.3 L447.3,396.7 L448.3,396.2 L449.3,395.7 L450.3,395.2 L451.3,394.7 L452.3,394.3 L453.3,393.9 L454.3,393.6 L455.3,393.3 L456.3,393.1 L457.3,392.8 L458.3,392.6 L459.3,392.5 L460.3,392.4 L461.3,392.3 L462.3,392.3 L463.3,392.3 L464.3,392.3 L465.3,392.4 L466.3,392.6 L467.3,392.8 L468.3,393.0 L469.3,393.3 L470.3,393.7 L471.3,394.1 L472.3,394.6 L473.3,395.1 L474.3,395.7 L475.3,396.3 L476.3,397.1 L477.3,397.8 L478.3,398.7 L479.3,399.6 L480.3,400.6 L481.3,401.7 L482.3,402.8 L483.3,404.1 L484.3,405.3 L485.3,406.7 L486.3,408.1 L487.3,409.6 L488.3,411.1 L489.3,412.7 L490.3,414.4 L491.3,416.0 L492.3,417.7 L493.3,419.5 L494.3,421.3 L495.3,423.1 L496.3,424.9 L497.3,426.8 L498.3,428.7 L499.3,430.7 L500.3,432.6 L501.3,434.6 L502.3,436.5 L503.3,438.5 L504.3,440.5 L505.3,442.4 L506.3,444.4 L507.3,446.3 L508.3,448.2 L509.3,450.1 L510.3,452.0 L511.3,454.0 L512.3,455.9 L513.3,457.9 L514.3,459.9 L515.3,462.0 L516.3,464.2 L517.3,466.4 L518.3,468.7 L519.3,471.1 L520.3,473.5 L521.3,476.0 L522.3,478.5 L523.3,481.0 L524.3,483.5 L525.3,486.1 L526.3,488.7 L527.3,491.4 L528.3,494.0 L529.3,496.7 L530.3,499.5 L531.3,502.3 L532.3,505.1 L533.3,507.9 L534.3,510.8 L535.3,513.7 L536.3,516.6 L537.3,519.5 L538.3,522.5 L539.3,525.5 L540.3,528.5 L541.3,531.6 L542.3,534.6 L543.3,537.6 L544.3,540.6 L545.3,543.5 L546.3,546.4 L547.3,549.3 L548.3,552.1 L549.3,554.9 L550.3,557.7 L551.3,560.4 L552.3,563.2 L553.3,565.8 L554.3,568.5 L555.3,571.1 L556.3,573.7 L557.3,576.2 L558.3,578.8 L559.3,581.2 L560.3,583.6 L561.3,586.0 L562.3,588.3 L563.3,590.6 L564.3,592.8 L565.3,594.9 L566.3,597.0 L567.3,599.0 L568.3,600.9 L569.3,602.8 L570.3,604.6 L571.3,606.4 L572.3,608.0 L573.3,609.6 L574.3,611.2 L575.3,612.6 L576.3,614.0 L577.3,615.3 L578.3,616.6 L579.3,617.8 L580.3,619.0 L581.3,620.0 L582.3,621.1 L583.3,622.1 L584.3,623.0 L585.3,623.9 L586.3,624.7 L587.3,625.4 L588.3,626.2 L589.3,626.8 L590.3,627.5 L591.3,628.1 L592.3,628.6 L593.3,629.2 L594.3,629.7 L595.3,630.2 L596.3,630.7 L597.3,631.1 L598.3,631.5 L599.3,631.9 L600.3,632.3 L601.3,632.6 L602.3,633.0 L603.3,633.3 L604.3,633.6 L605.3,633.8 L606.3,634.1 L607.3,634.4 L608.3,634.6 L609.3,634.8 L610.3,635.1 L611.3,635.3 L612.3,635.5 L613.3,635.7 L614.3,635.9 L615.3,636.0 L616.3,636.2 L617.3,636.4 L618.3,636.5 L619.3,636.7 L620.3,636.9 L621.3,637.0 L622.3,637.2 L623.3,637.3 L624.3,637.4 L625.3,637.6 L626.3,637.7 L627.3,637.8 L628.3,637.9 L629.3,638.0 L630.3,638.1 L631.3,638.2 L632.3,638.2 L633.3,638.3 L634.3,638.4 L635.3,638.4 L636.3,638.5 L637.3,638.6 L638.3,638.6 L639.3,638.7 L640.3,638.7 L641.3,638.8 L642.3,638.8 L643.3,638.9 L644.3,639.0 L645.3,639.0 L646.3,639.1 L647.3,639.1 L648.3,639.2 L649.3,639.2 L650.3,639.3 L651.3,639.3 L652.3,639.4 L653.3,639.4 L654.3,639.5 L655.3,639.6 L656.3,639.6 L657.3,639.7 L658.3,639.7 L659.3,639.8 L660.3,639.8 L661.3,639.9 L662.3,639.9 L663.3,640.0 L664.3,640.0 L665.3,640.1 L666.3,640.2 L667.3,640.2 L668.3,640.3 L669.3,640.3 L670.3,640.4 L671.3,640.4 L672.3,640.5 L673.3,640.5 L674.3,640.6 L675.3,640.6 L676.3,640.7 L677.3,640.7 L678.3,640.8 L679.3,640.9 L680.3,640.9 L681.3,641.0 L682.3,641.0 L683.3,641.1 L684.3,641.1 L685.3,641.1 L686.3,641.2 L687.3,641.2 L688.3,641.3 L689.3,641.3 L690.3,641.3 L691.3,641.4 L692.3,641.4 L693.3,641.4 L694.3,641.4 L695.3,641.5 L696.3,641.5 L697.3,641.5 L698.3,641.5 L699.3,641.5 L700.0,641.6 L705.0,641.8 L710.0,642.1 L715.0,642.6 L720.0,643.0 L725.0,643.5 L730.0,643.9 L735.0,644.2 L740.0,644.3 L745.0,644.4 L750.0,644.5 L755.0,644.6 L760.0,644.6 L765.0,644.7 L770.0,644.7 L775.0,644.8 L780.0,644.8 L785.0,644.8 L790.0,644.8 L795.0,644.8 L800.0,644.8 L805.0,644.8 L810.0,644.9 L815.0,644.9 L820.0,644.9 L825.0,644.9 L830.0,644.9 L835.0,644.9 L840.0,644.9 L845.0,644.9 L850.0,645.0 L855.0,645.0 L860.0,645.0 L865.0,645.0 L870.0,645.0 L875.0,645.0 L880.0,645.0 L885.0,645.0 L890.0,645.0 L895.0,645.0 L900.0,645.0 L905.0,645.1 L910.0,645.1 L915.0,645.1 L920.0,645.1 L925.0,645.1 L930.0,645.1 L935.0,645.1 L940.0,645.1 L945.0,645.1 L950.0,645.1 L955.0,645.1 L960.0,645.1 L965.0,645.1 L970.0,645.1 L975.0,645.1 L980.0,645.1 L985.0,645.1 L990.0,645.2 L995.0,645.2 L1000.0,645.2 L1005.0,645.2 L1010.0,645.2 L1015.0,645.2 L1020.0,645.2 L1025.0,645.2 L1027.0,645.2" stroke="#008000" stroke-width="2.9"/>
<path transform="scale(1,1.13)" d="M172.3,126.1 L173.3,127.7 L174.3,129.6 L175.3,131.9 L176.3,136.4 L177.3,142.1 L178.3,147.7 L179.3,153.4 L180.3,159.2 L181.3,165.2 L182.3,171.3 L183.3,177.4 L184.3,183.8 L185.3,190.5 L186.3,197.4 L187.3,204.7 L188.3,212.3 L189.3,219.9 L190.3,227.9 L191.3,236.2 L192.3,244.8 L193.3,253.8 L194.3,263.0 L195.3,272.6 L196.3,282.4 L197.3,292.4 L198.3,302.6 L199.3,312.8 L200.3,323.0 L201.3,333.0 L202.3,342.7 L203.3,352.1 L204.3,360.9 L205.3,369.2 L206.3,377.0 L207.3,384.3 L208.3,391.1 L209.3,397.4 L210.3,403.3 L211.3,408.9 L212.3,414.1 L213.3,419.1 L214.3,423.8 L215.3,428.3 L216.3,432.5 L217.3,436.6 L218.3,440.5 L219.3,444.2 L220.3,447.6 L221.3,450.7 L222.3,453.7 L223.3,456.3 L224.3,458.7 L225.3,460.7 L226.3,462.6 L227.3,464.2 L228.3,465.7 L229.3,466.9 L230.3,468.0 L231.3,469.0 L232.3,469.9 L233.3,470.7 L234.3,471.3 L235.3,471.9 L236.3,472.4 L237.3,472.9 L238.3,473.3 L239.3,473.7 L240.3,474.0 L241.3,474.3 L242.3,474.6 L243.3,474.9 L244.3,475.1 L245.3,475.3 L246.3,475.5 L247.3,475.7 L248.3,475.9 L249.3,476.1 L250.3,476.2 L251.3,476.3 L252.3,476.4 L253.3,476.5 L254.3,476.5 L255.3,476.5 L256.3,476.6 L257.3,476.6 L258.3,476.5 L259.3,476.5 L260.3,476.5 L261.3,476.4 L262.3,476.4 L263.3,476.3 L264.3,476.3 L265.3,476.3 L266.3,476.3 L267.3,476.3 L268.3,476.4 L269.3,476.6 L270.3,476.8 L271.3,477.0 L272.3,477.3 L273.3,477.5 L274.3,477.8 L275.3,478.1 L276.3,478.4 L277.3,478.7 L278.3,478.9 L279.3,479.1 L280.3,479.2 L281.3,479.3 L282.3,479.3 L283.3,479.3 L284.3,479.1 L285.3,478.9 L286.3,478.6 L287.3,478.2 L288.3,477.6 L289.3,477.0 L290.3,476.2 L291.3,475.4 L292.3,474.4 L293.3,473.3 L294.3,472.1 L295.3,470.9 L296.3,469.5 L297.3,468.0 L298.3,466.5 L299.3,464.9 L300.3,463.2 L301.3,461.5 L302.3,459.7 L303.3,458.0 L304.3,456.2 L305.3,454.4 L306.3,452.6 L307.3,450.9 L308.3,449.1 L309.3,447.4 L310.3,445.6 L311.3,443.9 L312.3,442.2 L313.3,440.6 L314.3,438.9 L315.3,437.4 L316.3,435.8 L317.3,434.4 L318.3,433.0 L319.3,431.7 L320.3,430.4 L321.3,429.2 L322.3,428.1 L323.3,427.0 L324.3,426.0 L325.3,425.1 L326.3,424.2 L327.3,423.4 L328.3,422.6 L329.3,421.9 L330.3,421.2 L331.3,420.6 L332.3,420.0 L333.3,419.4 L334.3,419.0 L335.3,418.5 L336.3,418.1 L337.3,417.7 L338.3,417.4 L339.3,417.1 L340.3,416.9 L341.3,416.7 L342.3,416.5 L343.3,416.4 L344.3,416.3 L345.3,416.3 L346.3,416.3 L347.3,416.4 L348.3,416.5 L349.3,416.6 L350.3,416.8 L351.3,417.0 L352.3,417.3 L353.3,417.7 L354.3,418.1 L355.3,418.6 L356.3,419.2 L357.3,419.9 L358.3,420.6 L359.3,421.3 L360.3,422.2 L361.3,423.0 L362.3,423.9 L363.3,424.8 L364.3,425.8 L365.3,426.7 L366.3,427.7 L367.3,428.6 L368.3,429.6 L369.3,430.5 L370.3,431.4 L371.3,432.3 L372.3,433.1 L373.3,433.9 L374.3,434.6 L375.3,435.3 L376.3,435.9 L377.3,436.5 L378.3,437.1 L379.3,437.6 L380.3,438.1 L381.3,438.6 L382.3,439.0 L383.3,439.4 L384.3,439.7 L385.3,440.1 L386.3,440.3 L387.3,440.6 L388.3,440.9 L389.3,441.1 L390.3,441.4 L391.3,441.7 L392.3,441.9 L393.3,442.2 L394.3,442.5 L395.3,442.8 L396.3,443.0 L397.3,443.2 L398.3,443.4 L399.3,443.5 L400.3,443.6 L401.3,443.6 L402.3,443.5 L403.3,443.3 L404.3,443.0 L405.3,442.7 L406.3,442.2 L407.3,441.6 L408.3,441.0 L409.3,440.3 L410.3,439.6 L411.3,438.7 L412.3,437.9 L413.3,436.9 L414.3,436.0 L415.3,435.0 L416.3,433.9 L417.3,432.9 L418.3,431.8 L419.3,430.7 L420.3,429.6 L421.3,428.5 L422.3,427.4 L423.3,426.3 L424.3,425.3 L425.3,424.2 L426.3,423.2 L427.3,422.2 L428.3,421.2 L429.3,420.2 L430.3,419.2 L431.3,418.3 L432.3,417.3 L433.3,416.4 L434.3,415.4 L435.3,414.5 L436.3,413.6 L437.3,412.7 L438.3,411.9 L439.3,411.1 L440.3,410.3 L441.3,409.6 L442.3,408.9 L443.3,408.2 L444.3,407.6 L445.3,407.0 L446.3,406.4 L447.3,405.8 L448.3,405.3 L449.3,404.9 L450.3,404.4 L451.3,404.0 L452.3,403.6 L453.3,403.3 L454.3,403.0 L455.3,402.8 L456.3,402.6 L457.3,402.4 L458.3,402.2 L459.3,402.1 L460.3,402.0 L461.3,402.0 L462.3,402.0 L463.3,402.0 L464.3,402.1 L465.3,402.2 L466.3,402.4 L467.3,402.6 L468.3,402.9 L469.3,403.2 L470.3,403.6 L471.3,404.0 L472.3,404.5 L473.3,405.0 L474.3,405.6 L475.3,406.3 L476.3,407.0 L477.3,407.8 L478.3,408.6 L479.3,409.5 L480.3,410.5 L481.3,411.5 L482.3,412.7 L483.3,413.8 L484.3,415.1 L485.3,416.4 L486.3,417.8 L487.3,419.2 L488.3,420.7 L489.3,422.2 L490.3,423.8 L491.3,425.4 L492.3,427.1 L493.3,428.8 L494.3,430.5 L495.3,432.2 L496.3,434.0 L497.3,435.8 L498.3,437.6 L499.3,439.5 L500.3,441.4 L501.3,443.3 L502.3,445.2 L503.3,447.1 L504.3,449.0 L505.3,450.8 L506.3,452.7 L507.3,454.6 L508.3,456.4 L509.3,458.3 L510.3,460.1 L511.3,462.0 L512.3,463.9 L513.3,465.8 L514.3,467.8 L515.3,469.8 L516.3,471.8 L517.3,474.0 L518.3,476.2 L519.3,478.4 L520.3,480.7 L521.3,483.1 L522.3,485.5 L523.3,487.9 L524.3,490.3 L525.3,492.8 L526.3,495.3 L527.3,497.8 L528.3,500.3 L529.3,502.9 L530.3,505.5 L531.3,508.1 L532.3,510.8 L533.3,513.5 L534.3,516.2 L535.3,518.9 L536.3,521.7 L537.3,524.5 L538.3,527.3 L539.3,530.2 L540.3,533.0 L541.3,535.9 L542.3,538.8 L543.3,541.6 L544.3,544.4 L545.3,547.2 L546.3,550.0 L547.3,552.7 L548.3,555.4 L549.3,558.1 L550.3,560.7 L551.3,563.3 L552.3,565.9 L553.3,568.4 L554.3,571.0 L555.3,573.4 L556.3,575.9 L557.3,578.3 L558.3,580.7 L559.3,583.1 L560.3,585.4 L561.3,587.7 L562.3,589.9 L563.3,592.1 L564.3,594.2 L565.3,596.2 L566.3,598.2 L567.3,600.1 L568.3,602.0 L569.3,603.8 L570.3,605.6 L571.3,607.3 L572.3,608.9 L573.3,610.4 L574.3,611.9 L575.3,613.3 L576.3,614.6 L577.3,615.9 L578.3,617.1 L579.3,618.3 L580.3,619.4 L581.3,620.4 L582.3,621.4 L583.3,622.4 L584.3,623.3 L585.3,624.1 L586.3,624.9 L587.3,625.6 L588.3,626.3 L589.3,627.0 L590.3,627.6 L591.3,628.2 L592.3,628.8 L593.3,629.3 L594.3,629.9 L595.3,630.3 L596.3,630.8 L597.3,631.2 L598.3,631.6 L599.3,632.0 L600.3,632.4 L601.3,632.7 L602.3,633.1 L603.3,633.4 L604.3,633.7 L605.3,633.9 L606.3,634.2 L607.3,634.5 L608.3,634.7 L609.3,634.9 L610.3,635.1 L611.3,635.3 L612.3,635.5 L613.3,635.7 L614.3,635.9 L615.3,636.1 L616.3,636.2 L617.3,636.4 L618.3,636.6 L619.3,636.7 L620.3,636.9 L621.3,637.0 L622.3,637.2 L623.3,637.3 L624.3,637.5 L625.3,637.6 L626.3,637.7 L627.3,637.8 L628.3,637.9 L629.3,638.0 L630.3,638.1 L631.3,638.2 L632.3,638.2 L633.3,638.3 L634.3,638.4 L635.3,638.4 L636.3,638.5 L637.3,638.6 L638.3,638.6 L639.3,638.7 L640.3,638.7 L641.3,638.8 L642.3,638.8 L643.3,638.9 L644.3,638.9 L645.3,639.0 L646.3,639.1 L647.3,639.1 L648.3,639.2 L649.3,639.2 L650.3,639.3 L651.3,639.3 L652.3,639.4 L653.3,639.4 L654.3,639.5 L655.3,639.5 L656.3,639.6 L657.3,639.7 L658.3,639.7 L659.3,639.8 L660.3,639.8 L661.3,639.9 L662.3,639.9 L663.3,640.0 L664.3,640.0 L665.3,640.1 L666.3,640.1 L667.3,640.2 L668.3,640.3 L669.3,640.3 L670.3,640.4 L671.3,640.4 L672.3,640.5 L673.3,640.5 L674.3,640.6 L675.3,640.6 L676.3,640.7 L677.3,640.7 L678.3,640.8 L679.3,640.8 L680.3,640.9 L681.3,641.0 L682.3,641.0 L683.3,641.1 L684.3,641.1 L685.3,641.1 L686.3,641.2 L687.3,641.2 L688.3,641.3 L689.3,641.3 L690.3,641.3 L691.3,641.4 L692.3,641.4 L693.3,641.4 L694.3,641.4 L695.3,641.5 L696.3,641.5 L697.3,641.5 L698.3,641.5 L699.3,641.5 L700.0,641.6 L705.0,641.8 L710.0,642.1 L715.0,642.6 L720.0,643.0 L725.0,643.5 L730.0,643.9 L735.0,644.2 L740.0,644.3 L745.0,644.4 L750.0,644.5 L755.0,644.6 L760.0,644.6 L765.0,644.7 L770.0,644.7 L775.0,644.8 L780.0,644.8 L785.0,644.8 L790.0,644.8 L795.0,644.8 L800.0,644.8 L805.0,644.8 L810.0,644.9 L815.0,644.9 L820.0,644.9 L825.0,644.9 L830.0,644.9 L835.0,644.9 L840.0,644.9 L845.0,644.9 L850.0,645.0 L855.0,645.0 L860.0,645.0 L865.0,645.0 L870.0,645.0 L875.0,645.0 L880.0,645.0 L885.0,645.0 L890.0,645.0 L895.0,645.0 L900.0,645.0 L905.0,645.1 L910.0,645.1 L915.0,645.1 L920.0,645.1 L925.0,645.1 L930.0,645.1 L935.0,645.1 L940.0,645.1 L945.0,645.1 L950.0,645.1 L955.0,645.1 L960.0,645.1 L965.0,645.1 L970.0,645.1 L975.0,645.1 L980.0,645.1 L985.0,645.1 L990.0,645.2 L995.0,645.2 L1000.0,645.2 L1005.0,645.2 L1010.0,645.2 L1015.0,645.2 L1020.0,645.2 L1025.0,645.2 L1027.0,645.2" stroke="#800080" stroke-width="2.9"/>
<path transform="scale(1,1.13)" d="M172.3,119.8 L173.3,121.3 L174.3,122.9 L175.3,125.0 L176.3,129.5 L177.3,135.1 L178.3,140.5 L179.3,145.9 L180.3,151.5 L181.3,157.2 L182.3,163.0 L183.3,168.9 L184.3,175.1 L185.3,181.7 L186.3,188.7 L187.3,196.0 L188.3,203.6 L189.3,211.3 L190.3,219.3 L191.3,227.7 L192.3,236.4 L193.3,245.4 L194.3,254.7 L195.3,264.3 L196.3,274.1 L197.3,284.1 L198.3,294.2 L199.3,304.3 L200.3,314.4 L201.3,324.4 L202.3,334.1 L203.3,343.5 L204.3,352.4 L205.3,360.9 L206.3,368.8 L207.3,376.3 L208.3,383.3 L209.3,389.8 L210.3,395.9 L211.3,401.7 L212.3,407.1 L213.3,412.3 L214.3,417.3 L215.3,422.1 L216.3,426.7 L217.3,431.1 L218.3,435.3 L219.3,439.4 L220.3,443.2 L221.3,446.8 L222.3,450.1 L223.3,453.0 L224.3,455.7 L225.3,458.1 L226.3,460.3 L227.3,462.1 L228.3,463.8 L229.3,465.3 L230.3,466.6 L231.3,467.8 L232.3,468.8 L233.3,469.8 L234.3,470.6 L235.3,471.4 L236.3,472.1 L237.3,472.7 L238.3,473.3 L239.3,473.8 L240.3,474.3 L241.3,474.7 L242.3,475.1 L243.3,475.4 L244.3,475.7 L245.3,476.0 L246.3,476.2 L247.3,476.4 L248.3,476.5 L249.3,476.7 L250.3,476.8 L251.3,476.8 L252.3,476.8 L253.3,476.8 L254.3,476.8 L255.3,476.7 L256.3,476.6 L257.3,476.5 L258.3,476.3 L259.3,476.1 L260.3,475.9 L261.3,475.7 L262.3,475.5 L263.3,475.3 L264.3,475.1 L265.3,474.9 L266.3,474.7 L267.3,474.6 L268.3,474.5 L269.3,474.5 L270.3,474.4 L271.3,474.5 L272.3,474.5 L273.3,474.6 L274.3,474.6 L275.3,474.7 L276.3,474.7 L277.3,474.7 L278.3,474.7 L279.3,474.6 L280.3,474.5 L281.3,474.4 L282.3,474.2 L283.3,473.9 L284.3,473.6 L285.3,473.2 L286.3,472.6 L287.3,472.0 L288.3,471.3 L289.3,470.5 L290.3,469.5 L291.3,468.5 L292.3,467.4 L293.3,466.1 L294.3,464.8 L295.3,463.4 L296.3,461.8 L297.3,460.2 L298.3,458.5 L299.3,456.8 L300.3,454.9 L301.3,453.1 L302.3,451.2 L303.3,449.3 L304.3,447.3 L305.3,445.4 L306.3,443.5 L307.3,441.6 L308.3,439.6 L309.3,437.7 L310.3,435.9 L311.3,434.0 L312.3,432.2 L313.3,430.3 L314.3,428.6 L315.3,426.9 L316.3,425.3 L317.3,423.7 L318.3,422.2 L319.3,420.8 L320.3,419.5 L321.3,418.3 L322.3,417.1 L323.3,416.1 L324.3,415.1 L325.3,414.2 L326.3,413.3 L327.3,412.5 L328.3,411.8 L329.3,411.1 L330.3,410.5 L331.3,409.9 L332.3,409.3 L333.3,408.9 L334.3,408.4 L335.3,408.0 L336.3,407.7 L337.3,407.4 L338.3,407.1 L339.3,406.9 L340.3,406.8 L341.3,406.7 L342.3,406.6 L343.3,406.6 L344.3,406.6 L345.3,406.7 L346.3,406.8 L347.3,406.9 L348.3,407.1 L349.3,407.4 L350.3,407.7 L351.3,408.0 L352.3,408.5 L353.3,409.0 L354.3,409.5 L355.3,410.2 L356.3,410.9 L357.3,411.7 L358.3,412.6 L359.3,413.6 L360.3,414.6 L361.3,415.7 L362.3,416.9 L363.3,418.0 L364.3,419.2 L365.3,420.5 L366.3,421.7 L367.3,422.9 L368.3,424.1 L369.3,425.3 L370.3,426.4 L371.3,427.6 L372.3,428.6 L373.3,429.7 L374.3,430.7 L375.3,431.6 L376.3,432.5 L377.3,433.4 L378.3,434.2 L379.3,435.0 L380.3,435.8 L381.3,436.5 L382.3,437.2 L383.3,437.9 L384.3,438.6 L385.3,439.2 L386.3,439.9 L387.3,440.5 L388.3,441.1 L389.3,441.7 L390.3,442.4 L391.3,443.0 L392.3,443.7 L393.3,444.3 L394.3,445.0 L395.3,445.7 L396.3,446.4 L397.3,447.0 L398.3,447.6 L399.3,448.2 L400.3,448.6 L401.3,449.0 L402.3,449.3 L403.3,449.5 L404.3,449.5 L405.3,449.5 L406.3,449.3 L407.3,449.1 L408.3,448.8 L409.3,448.3 L410.3,447.8 L411.3,447.3 L412.3,446.6 L413.3,445.9 L414.3,445.2 L415.3,444.4 L416.3,443.5 L417.3,442.6 L418.3,441.7 L419.3,440.8 L420.3,439.8 L421.3,438.9 L422.3,438.0 L423.3,437.0 L424.3,436.1 L425.3,435.2 L426.3,434.3 L427.3,433.4 L428.3,432.6 L429.3,431.7 L430.3,430.8 L431.3,430.0 L432.3,429.1 L433.3,428.3 L434.3,427.4 L435.3,426.6 L436.3,425.8 L437.3,425.1 L438.3,424.3 L439.3,423.6 L440.3,423.0 L441.3,422.3 L442.3,421.7 L443.3,421.1 L444.3,420.5 L445.3,420.0 L446.3,419.5 L447.3,419.0 L448.3,418.6 L449.3,418.2 L450.3,417.8 L451.3,417.5 L452.3,417.2 L453.3,416.9 L454.3,416.7 L455.3,416.5 L456.3,416.3 L457.3,416.2 L458.3,416.1 L459.3,416.0 L460.3,416.0 L461.3,416.0 L462.3,416.0 L463.3,416.1 L464.3,416.2 L465.3,416.4 L466.3,416.6 L467.3,416.8 L468.3,417.1 L469.3,417.5 L470.3,417.9 L471.3,418.3 L472.3,418.8 L473.3,419.4 L474.3,420.0 L475.3,420.6 L476.3,421.4 L477.3,422.1 L478.3,423.0 L479.3,423.8 L480.3,424.8 L481.3,425.8 L482.3,426.9 L483.3,428.0 L484.3,429.2 L485.3,430.5 L486.3,431.8 L487.3,433.2 L488.3,434.6 L489.3,436.0 L490.3,437.5 L491.3,439.0 L492.3,440.6 L493.3,442.2 L494.3,443.8 L495.3,445.5 L496.3,447.1 L497.3,448.9 L498.3,450.6 L499.3,452.3 L500.3,454.1 L501.3,455.9 L502.3,457.7 L503.3,459.5 L504.3,461.3 L505.3,463.1 L506.3,464.8 L507.3,466.6 L508.3,468.4 L509.3,470.1 L510.3,471.9 L511.3,473.6 L512.3,475.4 L513.3,477.2 L514.3,479.1 L515.3,481.0 L516.3,482.9 L517.3,484.9 L518.3,487.0 L519.3,489.1 L520.3,491.2 L521.3,493.4 L522.3,495.6 L523.3,497.9 L524.3,500.1 L525.3,502.4 L526.3,504.7 L527.3,507.0 L528.3,509.4 L529.3,511.8 L530.3,514.2 L531.3,516.6 L532.3,519.1 L533.3,521.5 L534.3,524.0 L535.3,526.6 L536.3,529.1 L537.3,531.7 L538.3,534.3 L539.3,536.9 L540.3,539.6 L541.3,542.2 L542.3,544.8 L543.3,547.4 L544.3,550.0 L545.3,552.6 L546.3,555.2 L547.3,557.7 L548.3,560.2 L549.3,562.6 L550.3,565.0 L551.3,567.4 L552.3,569.8 L553.3,572.2 L554.3,574.5 L555.3,576.8 L556.3,579.1 L557.3,581.4 L558.3,583.6 L559.3,585.8 L560.3,588.0 L561.3,590.1 L562.3,592.2 L563.3,594.2 L564.3,596.2 L565.3,598.1 L566.3,600.0 L567.3,601.8 L568.3,603.6 L569.3,605.3 L570.3,607.0 L571.3,608.5 L572.3,610.0 L573.3,611.5 L574.3,612.9 L575.3,614.2 L576.3,615.5 L577.3,616.7 L578.3,617.8 L579.3,618.9 L580.3,620.0 L581.3,620.9 L582.3,621.9 L583.3,622.8 L584.3,623.6 L585.3,624.5 L586.3,625.2 L587.3,625.9 L588.3,626.6 L589.3,627.3 L590.3,627.9 L591.3,628.5 L592.3,629.0 L593.3,629.6 L594.3,630.1 L595.3,630.5 L596.3,631.0 L597.3,631.4 L598.3,631.8 L599.3,632.2 L600.3,632.6 L601.3,632.9 L602.3,633.2 L603.3,633.5 L604.3,633.8 L605.3,634.1 L606.3,634.4 L607.3,634.6 L608.3,634.8 L609.3,635.0 L610.3,635.3 L611.3,635.4 L612.3,635.6 L613.3,635.8 L614.3,636.0 L615.3,636.1 L616.3,636.3 L617.3,636.5 L618.3,636.6 L619.3,636.8 L620.3,636.9 L621.3,637.1 L622.3,637.2 L623.3,637.3 L624.3,637.5 L625.3,637.6 L626.3,637.7 L627.3,637.8 L628.3,637.9 L629.3,638.0 L630.3,638.1 L631.3,638.2 L632.3,638.2 L633.3,638.3 L634.3,638.4 L635.3,638.4 L636.3,638.5 L637.3,638.5 L638.3,638.6 L639.3,638.7 L640.3,638.7 L641.3,638.8 L642.3,638.8 L643.3,638.9 L644.3,638.9 L645.3,639.0 L646.3,639.0 L647.3,639.1 L648.3,639.2 L649.3,639.2 L650.3,639.3 L651.3,639.3 L652.3,639.4 L653.3,639.4 L654.3,639.5 L655.3,639.5 L656.3,639.6 L657.3,639.6 L658.3,639.7 L659.3,639.8 L660.3,639.8 L661.3,639.9 L662.3,639.9 L663.3,640.0 L664.3,640.0 L665.3,640.1 L666.3,640.1 L667.3,640.2 L668.3,640.2 L669.3,640.3 L670.3,640.4 L671.3,640.4 L672.3,640.5 L673.3,640.5 L674.3,640.6 L675.3,640.6 L676.3,640.7 L677.3,640.7 L678.3,640.8 L679.3,640.8 L680.3,640.9 L681.3,641.0 L682.3,641.0 L683.3,641.1 L684.3,641.1 L685.3,641.1 L686.3,641.2 L687.3,641.2 L688.3,641.3 L689.3,641.3 L690.3,641.3 L691.3,641.4 L692.3,641.4 L693.3,641.4 L694.3,641.4 L695.3,641.5 L696.3,641.5 L697.3,641.5 L698.3,641.5 L699.3,641.5 L700.0,641.6 L705.0,641.8 L710.0,642.1 L715.0,642.6 L720.0,643.0 L725.0,643.5 L730.0,643.9 L735.0,644.2 L740.0,644.3 L745.0,644.4 L750.0,644.5 L755.0,644.6 L760.0,644.6 L765.0,644.7 L770.0,644.7 L775.0,644.8 L780.0,644.8 L785.0,644.8 L790.0,644.8 L795.0,644.8 L800.0,644.8 L805.0,644.8 L810.0,644.9 L815.0,644.9 L820.0,644.9 L825.0,644.9 L830.0,644.9 L835.0,644.9 L840.0,644.9 L845.0,644.9 L850.0,645.0 L855.0,645.0 L860.0,645.0 L865.0,645.0 L870.0,645.0 L875.0,645.0 L880.0,645.0 L885.0,645.0 L890.0,645.0 L895.0,645.0 L900.0,645.0 L905.0,645.1 L910.0,645.1 L915.0,645.1 L920.0,645.1 L925.0,645.1 L930.0,645.1 L935.0,645.1 L940.0,645.1 L945.0,645.1 L950.0,645.1 L955.0,645.1 L960.0,645.1 L965.0,645.1 L970.0,645.1 L975.0,645.1 L980.0,645.1 L985.0,645.1 L990.0,645.2 L995.0,645.2 L1000.0,645.2 L1005.0,645.2 L1010.0,645.2 L1015.0,645.2 L1020.0,645.2 L1025.0,645.2 L1027.0,645.2" stroke="#dc9614" stroke-width="2.9"/>
<path transform="scale(1,1.13)" d="M172.3,105.2 L173.3,106.4 L174.3,107.6 L175.3,109.0 L176.3,113.6 L177.3,119.1 L178.3,123.8 L179.3,128.6 L180.3,133.6 L181.3,138.7 L182.3,143.9 L183.3,149.3 L184.3,155.1 L185.3,161.5 L186.3,168.4 L187.3,175.8 L188.3,183.5 L189.3,191.3 L190.3,199.5 L191.3,208.1 L192.3,217.0 L193.3,226.1 L194.3,235.5 L195.3,245.1 L196.3,254.9 L197.3,264.8 L198.3,274.8 L199.3,284.7 L200.3,294.7 L201.3,304.6 L202.3,314.2 L203.3,323.7 L204.3,332.8 L205.3,341.5 L206.3,349.9 L207.3,357.8 L208.3,365.2 L209.3,372.2 L210.3,378.8 L211.3,385.1 L212.3,391.0 L213.3,396.7 L214.3,402.3 L215.3,407.7 L216.3,413.0 L217.3,418.3 L218.3,423.4 L219.3,428.3 L220.3,433.1 L221.3,437.6 L222.3,441.7 L223.3,445.6 L224.3,449.0 L225.3,452.1 L226.3,454.8 L227.3,457.3 L228.3,459.5 L229.3,461.4 L230.3,463.2 L231.3,464.8 L232.3,466.3 L233.3,467.7 L234.3,469.0 L235.3,470.1 L236.3,471.2 L237.3,472.3 L238.3,473.2 L239.3,474.1 L240.3,474.8 L241.3,475.5 L242.3,476.1 L243.3,476.6 L244.3,477.1 L245.3,477.4 L246.3,477.7 L247.3,477.9 L248.3,478.0 L249.3,478.1 L250.3,478.1 L251.3,478.0 L252.3,477.8 L253.3,477.6 L254.3,477.4 L255.3,477.1 L256.3,476.7 L257.3,476.3 L258.3,475.8 L259.3,475.3 L260.3,474.7 L261.3,474.1 L262.3,473.5 L263.3,472.9 L264.3,472.2 L265.3,471.6 L266.3,471.0 L267.3,470.4 L268.3,469.8 L269.3,469.2 L270.3,468.6 L271.3,468.0 L272.3,467.5 L273.3,466.9 L274.3,466.2 L275.3,465.5 L276.3,464.8 L277.3,464.1 L278.3,463.2 L279.3,462.4 L280.3,461.5 L281.3,460.6 L282.3,459.6 L283.3,458.7 L284.3,457.6 L285.3,456.5 L286.3,455.4 L287.3,454.2 L288.3,452.9 L289.3,451.6 L290.3,450.2 L291.3,448.8 L292.3,447.2 L293.3,445.7 L294.3,444.0 L295.3,442.3 L296.3,440.6 L297.3,438.8 L298.3,436.9 L299.3,434.9 L300.3,433.0 L301.3,430.9 L302.3,428.9 L303.3,426.8 L304.3,424.8 L305.3,422.7 L306.3,420.6 L307.3,418.5 L308.3,416.4 L309.3,414.3 L310.3,412.2 L311.3,410.1 L312.3,408.0 L313.3,406.0 L314.3,404.0 L315.3,402.1 L316.3,400.3 L317.3,398.6 L318.3,397.0 L319.3,395.5 L320.3,394.1 L321.3,392.9 L322.3,391.7 L323.3,390.7 L324.3,389.7 L325.3,388.9 L326.3,388.1 L327.3,387.4 L328.3,386.7 L329.3,386.1 L330.3,385.6 L331.3,385.2 L332.3,384.8 L333.3,384.4 L334.3,384.1 L335.3,383.9 L336.3,383.7 L337.3,383.6 L338.3,383.5 L339.3,383.4 L340.3,383.5 L341.3,383.5 L342.3,383.7 L343.3,383.9 L344.3,384.1 L345.3,384.4 L346.3,384.7 L347.3,385.1 L348.3,385.6 L349.3,386.1 L350.3,386.6 L351.3,387.2 L352.3,387.9 L353.3,388.7 L354.3,389.6 L355.3,390.6 L356.3,391.8 L357.3,393.0 L358.3,394.3 L359.3,395.8 L360.3,397.3 L361.3,398.9 L362.3,400.6 L363.3,402.3 L364.3,404.1 L365.3,405.9 L366.3,407.7 L367.3,409.6 L368.3,411.4 L369.3,413.2 L370.3,415.0 L371.3,416.7 L372.3,418.4 L373.3,420.0 L374.3,421.6 L375.3,423.1 L376.3,424.6 L377.3,426.0 L378.3,427.5 L379.3,428.9 L380.3,430.3 L381.3,431.7 L382.3,433.1 L383.3,434.5 L384.3,436.0 L385.3,437.4 L386.3,438.8 L387.3,440.2 L388.3,441.6 L389.3,443.1 L390.3,444.6 L391.3,446.1 L392.3,447.6 L393.3,449.2 L394.3,450.8 L395.3,452.5 L396.3,454.1 L397.3,455.8 L398.3,457.4 L399.3,458.9 L400.3,460.3 L401.3,461.6 L402.3,462.8 L403.3,463.8 L404.3,464.6 L405.3,465.3 L406.3,465.9 L407.3,466.3 L408.3,466.6 L409.3,466.8 L410.3,466.9 L411.3,466.9 L412.3,466.9 L413.3,466.7 L414.3,466.4 L415.3,466.1 L416.3,465.7 L417.3,465.2 L418.3,464.7 L419.3,464.2 L420.3,463.6 L421.3,463.0 L422.3,462.4 L423.3,461.8 L424.3,461.2 L425.3,460.6 L426.3,460.0 L427.3,459.4 L428.3,458.8 L429.3,458.2 L430.3,457.6 L431.3,457.0 L432.3,456.4 L433.3,455.8 L434.3,455.2 L435.3,454.7 L436.3,454.1 L437.3,453.6 L438.3,453.1 L439.3,452.6 L440.3,452.1 L441.3,451.7 L442.3,451.3 L443.3,450.9 L444.3,450.5 L445.3,450.1 L446.3,449.8 L447.3,449.5 L448.3,449.2 L449.3,449.0 L450.3,448.8 L451.3,448.6 L452.3,448.4 L453.3,448.3 L454.3,448.2 L455.3,448.2 L456.3,448.1 L457.3,448.1 L458.3,448.2 L459.3,448.2 L460.3,448.3 L461.3,448.4 L462.3,448.5 L463.3,448.7 L464.3,448.9 L465.3,449.1 L466.3,449.4 L467.3,449.7 L468.3,450.1 L469.3,450.5 L470.3,450.9 L471.3,451.4 L472.3,452.0 L473.3,452.6 L474.3,453.2 L475.3,453.8 L476.3,454.6 L477.3,455.3 L478.3,456.1 L479.3,457.0 L480.3,457.8 L481.3,458.8 L482.3,459.8 L483.3,460.8 L484.3,461.9 L485.3,463.0 L486.3,464.2 L487.3,465.4 L488.3,466.6 L489.3,467.9 L490.3,469.2 L491.3,470.5 L492.3,471.8 L493.3,473.2 L494.3,474.6 L495.3,476.0 L496.3,477.5 L497.3,479.0 L498.3,480.5 L499.3,482.0 L500.3,483.5 L501.3,485.1 L502.3,486.6 L503.3,488.2 L504.3,489.7 L505.3,491.3 L506.3,492.8 L507.3,494.4 L508.3,495.9 L509.3,497.4 L510.3,499.0 L511.3,500.5 L512.3,502.1 L513.3,503.6 L514.3,505.2 L515.3,506.9 L516.3,508.5 L517.3,510.2 L518.3,511.9 L519.3,513.7 L520.3,515.5 L521.3,517.3 L522.3,519.1 L523.3,521.0 L524.3,522.8 L525.3,524.7 L526.3,526.6 L527.3,528.5 L528.3,530.4 L529.3,532.3 L530.3,534.3 L531.3,536.2 L532.3,538.2 L533.3,540.2 L534.3,542.2 L535.3,544.2 L536.3,546.3 L537.3,548.3 L538.3,550.4 L539.3,552.5 L540.3,554.6 L541.3,556.7 L542.3,558.8 L543.3,560.9 L544.3,563.0 L545.3,565.0 L546.3,567.1 L547.3,569.1 L548.3,571.1 L549.3,573.1 L550.3,575.1 L551.3,577.0 L552.3,579.0 L553.3,580.9 L554.3,582.8 L555.3,584.7 L556.3,586.6 L557.3,588.5 L558.3,590.3 L559.3,592.1 L560.3,594.0 L561.3,595.7 L562.3,597.5 L563.3,599.2 L564.3,600.9 L565.3,602.6 L566.3,604.2 L567.3,605.7 L568.3,607.3 L569.3,608.7 L570.3,610.1 L571.3,611.5 L572.3,612.8 L573.3,614.0 L574.3,615.2 L575.3,616.4 L576.3,617.4 L577.3,618.5 L578.3,619.5 L579.3,620.4 L580.3,621.3 L581.3,622.2 L582.3,623.0 L583.3,623.8 L584.3,624.6 L585.3,625.3 L586.3,626.0 L587.3,626.6 L588.3,627.3 L589.3,627.9 L590.3,628.5 L591.3,629.0 L592.3,629.5 L593.3,630.1 L594.3,630.5 L595.3,631.0 L596.3,631.4 L597.3,631.9 L598.3,632.3 L599.3,632.6 L600.3,633.0 L601.3,633.3 L602.3,633.6 L603.3,633.9 L604.3,634.2 L605.3,634.5 L606.3,634.7 L607.3,634.9 L608.3,635.1 L609.3,635.3 L610.3,635.5 L611.3,635.7 L612.3,635.8 L613.3,636.0 L614.3,636.2 L615.3,636.3 L616.3,636.4 L617.3,636.6 L618.3,636.7 L619.3,636.8 L620.3,637.0 L621.3,637.1 L622.3,637.2 L623.3,637.3 L624.3,637.5 L625.3,637.6 L626.3,637.7 L627.3,637.8 L628.3,637.9 L629.3,638.0 L630.3,638.0 L631.3,638.1 L632.3,638.2 L633.3,638.3 L634.3,638.3 L635.3,638.4 L636.3,638.5 L637.3,638.5 L638.3,638.6 L639.3,638.6 L640.3,638.7 L641.3,638.7 L642.3,638.8 L643.3,638.9 L644.3,638.9 L645.3,639.0 L646.3,639.0 L647.3,639.1 L648.3,639.1 L649.3,639.2 L650.3,639.2 L651.3,639.3 L652.3,639.3 L653.3,639.4 L654.3,639.5 L655.3,639.5 L656.3,639.6 L657.3,639.6 L658.3,639.7 L659.3,639.7 L660.3,639.8 L661.3,639.8 L662.3,639.9 L663.3,640.0 L664.3,640.0 L665.3,640.1 L666.3,640.1 L667.3,640.2 L668.3,640.2 L669.3,640.3 L670.3,640.3 L671.3,640.4 L672.3,640.5 L673.3,640.5 L674.3,640.6 L675.3,640.6 L676.3,640.7 L677.3,640.7 L678.3,640.8 L679.3,640.8 L680.3,640.9 L681.3,640.9 L682.3,641.0 L683.3,641.0 L684.3,641.1 L685.3,641.1 L686.3,641.2 L687.3,641.2 L688.3,641.3 L689.3,641.3 L690.3,641.3 L691.3,641.4 L692.3,641.4 L693.3,641.4 L694.3,641.4 L695.3,641.5 L696.3,641.5 L697.3,641.5 L698.3,641.5 L699.3,641.5 L700.0,641.6 L705.0,641.8 L710.0,642.1 L715.0,642.6 L720.0,643.0 L725.0,643.5 L730.0,643.9 L735.0,644.2 L740.0,644.3 L745.0,644.4 L750.0,644.5 L755.0,644.6 L760.0,644.6 L765.0,644.7 L770.0,644.7 L775.0,644.8 L780.0,644.8 L785.0,644.8 L790.0,644.8 L795.0,644.8 L800.0,644.8 L805.0,644.8 L810.0,644.9 L815.0,644.9 L820.0,644.9 L825.0,644.9 L830.0,644.9 L835.0,644.9 L840.0,644.9 L845.0,644.9 L850.0,645.0 L855.0,645.0 L860.0,645.0 L865.0,645.0 L870.0,645.0 L875.0,645.0 L880.0,645.0 L885.0,645.0 L890.0,645.0 L895.0,645.0 L900.0,645.0 L905.0,645.1 L910.0,645.1 L915.0,645.1 L920.0,645.1 L925.0,645.1 L930.0,645.1 L935.0,645.1 L940.0,645.1 L945.0,645.1 L950.0,645.1 L955.0,645.1 L960.0,645.1 L965.0,645.1 L970.0,645.1 L975.0,645.1 L980.0,645.1 L985.0,645.1 L990.0,645.2 L995.0,645.2 L1000.0,645.2 L1005.0,645.2 L1010.0,645.2 L1015.0,645.2 L1020.0,645.2 L1025.0,645.2 L1027.0,645.2" stroke="#00cdd2" stroke-width="2.9"/>
<path transform="scale(1,1.13)" d="M172.3,91.9 L173.3,92.8 L174.3,93.6 L175.3,94.4 L176.3,99.1 L177.3,104.5 L178.3,108.7 L179.3,112.9 L180.3,117.3 L181.3,121.8 L182.3,126.5 L183.3,131.4 L184.3,136.9 L185.3,143.1 L186.3,149.9 L187.3,157.4 L188.3,165.2 L189.3,173.1 L190.3,181.5 L191.3,190.3 L192.3,199.3 L193.3,208.6 L194.3,218.1 L195.3,227.8 L196.3,237.5 L197.3,247.3 L198.3,257.1 L199.3,266.9 L200.3,276.8 L201.3,286.5 L202.3,296.2 L203.3,305.7 L204.3,314.9 L205.3,323.9 L206.3,332.6 L207.3,340.9 L208.3,348.8 L209.3,356.2 L210.3,363.3 L211.3,369.9 L212.3,376.3 L213.3,382.6 L214.3,388.6 L215.3,394.7 L216.3,400.7 L217.3,406.6 L218.3,412.5 L219.3,418.3 L220.3,423.9 L221.3,429.2 L222.3,434.2 L223.3,438.7 L224.3,442.9 L225.3,446.6 L226.3,449.9 L227.3,452.9 L228.3,455.5 L229.3,457.9 L230.3,460.1 L231.3,462.1 L232.3,464.0 L233.3,465.8 L234.3,467.4 L235.3,469.0 L236.3,470.5 L237.3,471.8 L238.3,473.1 L239.3,474.3 L240.3,475.3 L241.3,476.3 L242.3,477.1 L243.3,477.8 L244.3,478.3 L245.3,478.8 L246.3,479.1 L247.3,479.3 L248.3,479.4 L249.3,479.4 L250.3,479.2 L251.3,479.0 L252.3,478.8 L253.3,478.4 L254.3,477.9 L255.3,477.4 L256.3,476.8 L257.3,476.1 L258.3,475.3 L259.3,474.5 L260.3,473.6 L261.3,472.6 L262.3,471.7 L263.3,470.7 L264.3,469.6 L265.3,468.6 L266.3,467.6 L267.3,466.5 L268.3,465.5 L269.3,464.4 L270.3,463.4 L271.3,462.3 L272.3,461.1 L273.3,459.9 L274.3,458.7 L275.3,457.3 L276.3,455.9 L277.3,454.5 L278.3,453.0 L279.3,451.4 L280.3,449.9 L281.3,448.3 L282.3,446.7 L283.3,445.0 L284.3,443.4 L285.3,441.7 L286.3,440.0 L287.3,438.3 L288.3,436.5 L289.3,434.8 L290.3,433.0 L291.3,431.2 L292.3,429.3 L293.3,427.4 L294.3,425.5 L295.3,423.5 L296.3,421.6 L297.3,419.5 L298.3,417.5 L299.3,415.4 L300.3,413.2 L301.3,411.1 L302.3,408.9 L303.3,406.7 L304.3,404.4 L305.3,402.2 L306.3,399.9 L307.3,397.6 L308.3,395.3 L309.3,393.0 L310.3,390.7 L311.3,388.4 L312.3,386.2 L313.3,383.9 L314.3,381.8 L315.3,379.7 L316.3,377.7 L317.3,375.9 L318.3,374.1 L319.3,372.6 L320.3,371.1 L321.3,369.8 L322.3,368.6 L323.3,367.6 L324.3,366.7 L325.3,365.9 L326.3,365.1 L327.3,364.5 L328.3,363.9 L329.3,363.4 L330.3,363.0 L331.3,362.7 L332.3,362.4 L333.3,362.2 L334.3,362.0 L335.3,361.9 L336.3,361.9 L337.3,361.9 L338.3,362.0 L339.3,362.1 L340.3,362.3 L341.3,362.5 L342.3,362.9 L343.3,363.2 L344.3,363.7 L345.3,364.1 L346.3,364.7 L347.3,365.3 L348.3,366.0 L349.3,366.7 L350.3,367.5 L351.3,368.3 L352.3,369.3 L353.3,370.4 L354.3,371.6 L355.3,372.9 L356.3,374.3 L357.3,375.9 L358.3,377.7 L359.3,379.5 L360.3,381.5 L361.3,383.6 L362.3,385.8 L363.3,388.0 L364.3,390.4 L365.3,392.7 L366.3,395.1 L367.3,397.5 L368.3,399.9 L369.3,402.2 L370.3,404.6 L371.3,406.9 L372.3,409.1 L373.3,411.2 L374.3,413.3 L375.3,415.4 L376.3,417.4 L377.3,419.4 L378.3,421.3 L379.3,423.3 L380.3,425.3 L381.3,427.3 L382.3,429.4 L383.3,431.5 L384.3,433.6 L385.3,435.7 L386.3,437.8 L387.3,440.0 L388.3,442.1 L389.3,444.3 L390.3,446.6 L391.3,448.9 L392.3,451.2 L393.3,453.6 L394.3,456.1 L395.3,458.6 L396.3,461.2 L397.3,463.7 L398.3,466.2 L399.3,468.6 L400.3,470.9 L401.3,473.0 L402.3,475.0 L403.3,476.7 L404.3,478.3 L405.3,479.7 L406.3,480.9 L407.3,482.0 L408.3,482.9 L409.3,483.6 L410.3,484.3 L411.3,484.8 L412.3,485.2 L413.3,485.5 L414.3,485.7 L415.3,485.8 L416.3,485.8 L417.3,485.7 L418.3,485.6 L419.3,485.4 L420.3,485.2 L421.3,484.9 L422.3,484.6 L423.3,484.3 L424.3,484.0 L425.3,483.6 L426.3,483.3 L427.3,483.0 L428.3,482.6 L429.3,482.3 L430.3,481.9 L431.3,481.6 L432.3,481.2 L433.3,480.9 L434.3,480.5 L435.3,480.2 L436.3,479.8 L437.3,479.5 L438.3,479.2 L439.3,478.9 L440.3,478.6 L441.3,478.4 L442.3,478.1 L443.3,477.9 L444.3,477.7 L445.3,477.5 L446.3,477.3 L447.3,477.2 L448.3,477.1 L449.3,477.0 L450.3,476.9 L451.3,476.8 L452.3,476.8 L453.3,476.8 L454.3,476.9 L455.3,477.0 L456.3,477.0 L457.3,477.2 L458.3,477.3 L459.3,477.5 L460.3,477.6 L461.3,477.8 L462.3,478.1 L463.3,478.3 L464.3,478.6 L465.3,478.9 L466.3,479.2 L467.3,479.6 L468.3,480.0 L469.3,480.5 L470.3,481.0 L471.3,481.5 L472.3,482.1 L473.3,482.7 L474.3,483.4 L475.3,484.0 L476.3,484.7 L477.3,485.5 L478.3,486.2 L479.3,487.0 L480.3,487.9 L481.3,488.8 L482.3,489.7 L483.3,490.6 L484.3,491.6 L485.3,492.6 L486.3,493.6 L487.3,494.7 L488.3,495.7 L489.3,496.8 L490.3,497.9 L491.3,499.1 L492.3,500.2 L493.3,501.4 L494.3,502.6 L495.3,503.8 L496.3,505.1 L497.3,506.4 L498.3,507.6 L499.3,508.9 L500.3,510.3 L501.3,511.6 L502.3,512.9 L503.3,514.3 L504.3,515.6 L505.3,516.9 L506.3,518.3 L507.3,519.6 L508.3,520.9 L509.3,522.3 L510.3,523.6 L511.3,525.0 L512.3,526.3 L513.3,527.7 L514.3,529.0 L515.3,530.4 L516.3,531.8 L517.3,533.2 L518.3,534.6 L519.3,536.1 L520.3,537.5 L521.3,539.0 L522.3,540.4 L523.3,541.9 L524.3,543.4 L525.3,544.9 L526.3,546.4 L527.3,547.9 L528.3,549.5 L529.3,551.0 L530.3,552.5 L531.3,554.1 L532.3,555.6 L533.3,557.2 L534.3,558.7 L535.3,560.3 L536.3,561.9 L537.3,563.5 L538.3,565.1 L539.3,566.7 L540.3,568.3 L541.3,569.9 L542.3,571.5 L543.3,573.1 L544.3,574.7 L545.3,576.3 L546.3,577.9 L547.3,579.5 L548.3,581.1 L549.3,582.6 L550.3,584.2 L551.3,585.7 L552.3,587.3 L553.3,588.8 L554.3,590.3 L555.3,591.8 L556.3,593.4 L557.3,594.9 L558.3,596.4 L559.3,597.9 L560.3,599.4 L561.3,600.8 L562.3,602.3 L563.3,603.7 L564.3,605.2 L565.3,606.6 L566.3,607.9 L567.3,609.3 L568.3,610.6 L569.3,611.8 L570.3,613.0 L571.3,614.2 L572.3,615.3 L573.3,616.4 L574.3,617.4 L575.3,618.3 L576.3,619.2 L577.3,620.1 L578.3,621.0 L579.3,621.8 L580.3,622.5 L581.3,623.3 L582.3,624.0 L583.3,624.7 L584.3,625.4 L585.3,626.0 L586.3,626.7 L587.3,627.3 L588.3,627.9 L589.3,628.4 L590.3,629.0 L591.3,629.5 L592.3,630.0 L593.3,630.5 L594.3,631.0 L595.3,631.4 L596.3,631.9 L597.3,632.3 L598.3,632.7 L599.3,633.0 L600.3,633.4 L601.3,633.7 L602.3,634.0 L603.3,634.3 L604.3,634.5 L605.3,634.8 L606.3,635.0 L607.3,635.2 L608.3,635.4 L609.3,635.6 L610.3,635.7 L611.3,635.9 L612.3,636.0 L613.3,636.2 L614.3,636.3 L615.3,636.4 L616.3,636.6 L617.3,636.7 L618.3,636.8 L619.3,636.9 L620.3,637.0 L621.3,637.1 L622.3,637.3 L623.3,637.4 L624.3,637.5 L625.3,637.6 L626.3,637.7 L627.3,637.8 L628.3,637.8 L629.3,637.9 L630.3,638.0 L631.3,638.1 L632.3,638.2 L633.3,638.2 L634.3,638.3 L635.3,638.4 L636.3,638.4 L637.3,638.5 L638.3,638.6 L639.3,638.6 L640.3,638.7 L641.3,638.7 L642.3,638.8 L643.3,638.8 L644.3,638.9 L645.3,638.9 L646.3,639.0 L647.3,639.1 L648.3,639.1 L649.3,639.2 L650.3,639.2 L651.3,639.3 L652.3,639.3 L653.3,639.4 L654.3,639.4 L655.3,639.5 L656.3,639.5 L657.3,639.6 L658.3,639.7 L659.3,639.7 L660.3,639.8 L661.3,639.8 L662.3,639.9 L663.3,639.9 L664.3,640.0 L665.3,640.0 L666.3,640.1 L667.3,640.2 L668.3,640.2 L669.3,640.3 L670.3,640.3 L671.3,640.4 L672.3,640.4 L673.3,640.5 L674.3,640.6 L675.3,640.6 L676.3,640.7 L677.3,640.7 L678.3,640.8 L679.3,640.8 L680.3,640.9 L681.3,640.9 L682.3,641.0 L683.3,641.0 L684.3,641.1 L685.3,641.1 L686.3,641.2 L687.3,641.2 L688.3,641.3 L689.3,641.3 L690.3,641.3 L691.3,641.4 L692.3,641.4 L693.3,641.4 L694.3,641.4 L695.3,641.5 L696.3,641.5 L697.3,641.5 L698.3,641.5 L699.3,641.5 L700.0,641.6 L705.0,641.8 L710.0,642.1 L715.0,642.6 L720.0,643.0 L725.0,643.5 L730.0,643.9 L735.0,644.2 L740.0,644.3 L745.0,644.4 L750.0,644.5 L755.0,644.6 L760.0,644.6 L765.0,644.7 L770.0,644.7 L775.0,644.8 L780.0,644.8 L785.0,644.8 L790.0,644.8 L795.0,644.8 L800.0,644.8 L805.0,644.8 L810.0,644.9 L815.0,644.9 L820.0,644.9 L825.0,644.9 L830.0,644.9 L835.0,644.9 L840.0,644.9 L845.0,644.9 L850.0,645.0 L855.0,645.0 L860.0,645.0 L865.0,645.0 L870.0,645.0 L875.0,645.0 L880.0,645.0 L885.0,645.0 L890.0,645.0 L895.0,645.0 L900.0,645.0 L905.0,645.1 L910.0,645.1 L915.0,645.1 L920.0,645.1 L925.0,645.1 L930.0,645.1 L935.0,645.1 L940.0,645.1 L945.0,645.1 L950.0,645.1 L955.0,645.1 L960.0,645.1 L965.0,645.1 L970.0,645.1 L975.0,645.1 L980.0,645.1 L985.0,645.1 L990.0,645.2 L995.0,645.2 L1000.0,645.2 L1005.0,645.2 L1010.0,645.2 L1015.0,645.2 L1020.0,645.2 L1025.0,645.2 L1027.0,645.2" stroke="#8c5055" stroke-width="2.9"/>
<path transform="scale(1,1.13)" d="M172.3,85.6 L173.3,86.3 L174.3,86.9 L175.3,87.4 L176.3,92.2 L177.3,97.5 L178.3,101.4 L179.3,105.4 L180.3,109.5 L181.3,113.8 L182.3,118.2 L183.3,122.9 L184.3,128.3 L185.3,134.4 L186.3,141.2 L187.3,148.6 L188.3,156.5 L189.3,164.5 L190.3,172.9 L191.3,181.8 L192.3,190.9 L193.3,200.3 L194.3,209.8 L195.3,219.5 L196.3,229.2 L197.3,238.9 L198.3,248.7 L199.3,258.5 L200.3,268.2 L201.3,277.9 L202.3,287.6 L203.3,297.1 L204.3,306.4 L205.3,315.6 L206.3,324.4 L207.3,332.9 L208.3,341.0 L209.3,348.6 L210.3,355.8 L211.3,362.7 L212.3,369.4 L213.3,375.8 L214.3,382.2 L215.3,388.5 L216.3,394.8 L217.3,401.1 L218.3,407.3 L219.3,413.5 L220.3,419.5 L221.3,425.2 L222.3,430.6 L223.3,435.5 L224.3,440.0 L225.3,444.0 L226.3,447.6 L227.3,450.8 L228.3,453.6 L229.3,456.2 L230.3,458.6 L231.3,460.9 L232.3,462.9 L233.3,464.9 L234.3,466.7 L235.3,468.5 L236.3,470.1 L237.3,471.7 L238.3,473.1 L239.3,474.4 L240.3,475.6 L241.3,476.6 L242.3,477.5 L243.3,478.3 L244.3,478.9 L245.3,479.4 L246.3,479.7 L247.3,479.9 L248.3,480.0 L249.3,480.0 L250.3,479.8 L251.3,479.6 L252.3,479.2 L253.3,478.7 L254.3,478.2 L255.3,477.6 L256.3,476.8 L257.3,476.0 L258.3,475.1 L259.3,474.1 L260.3,473.1 L261.3,471.9 L262.3,470.8 L263.3,469.6 L264.3,468.4 L265.3,467.1 L266.3,465.9 L267.3,464.6 L268.3,463.4 L269.3,462.1 L270.3,460.8 L271.3,459.4 L272.3,458.0 L273.3,456.5 L274.3,454.9 L275.3,453.2 L276.3,451.5 L277.3,449.6 L278.3,447.8 L279.3,445.8 L280.3,443.9 L281.3,441.9 L282.3,439.9 L283.3,438.0 L284.3,436.0 L285.3,434.0 L286.3,432.0 L287.3,430.0 L288.3,428.0 L289.3,426.0 L290.3,424.0 L291.3,422.0 L292.3,420.0 L293.3,418.0 L294.3,415.9 L295.3,413.9 L296.3,411.8 L297.3,409.7 L298.3,407.6 L299.3,405.4 L300.3,403.3 L301.3,401.1 L302.3,398.8 L303.3,396.6 L304.3,394.3 L305.3,392.0 L306.3,389.7 L307.3,387.4 L308.3,385.0 L309.3,382.7 L310.3,380.3 L311.3,377.9 L312.3,375.6 L313.3,373.3 L314.3,371.0 L315.3,368.9 L316.3,366.9 L317.3,365.0 L318.3,363.2 L319.3,361.6 L320.3,360.1 L321.3,358.8 L322.3,357.6 L323.3,356.6 L324.3,355.7 L325.3,354.9 L326.3,354.2 L327.3,353.6 L328.3,353.1 L329.3,352.6 L330.3,352.3 L331.3,352.0 L332.3,351.7 L333.3,351.6 L334.3,351.5 L335.3,351.4 L336.3,351.5 L337.3,351.6 L338.3,351.7 L339.3,351.9 L340.3,352.2 L341.3,352.5 L342.3,352.9 L343.3,353.4 L344.3,353.9 L345.3,354.5 L346.3,355.2 L347.3,355.9 L348.3,356.6 L349.3,357.4 L350.3,358.3 L351.3,359.3 L352.3,360.4 L353.3,361.6 L354.3,362.9 L355.3,364.4 L356.3,366.0 L357.3,367.8 L358.3,369.7 L359.3,371.8 L360.3,374.0 L361.3,376.3 L362.3,378.7 L363.3,381.2 L364.3,383.8 L365.3,386.4 L366.3,389.1 L367.3,391.7 L368.3,394.4 L369.3,397.0 L370.3,399.6 L371.3,402.2 L372.3,404.6 L373.3,407.1 L374.3,409.4 L375.3,411.7 L376.3,414.0 L377.3,416.2 L378.3,418.4 L379.3,420.7 L380.3,423.0 L381.3,425.3 L382.3,427.6 L383.3,430.0 L384.3,432.4 L385.3,434.9 L386.3,437.3 L387.3,439.8 L388.3,442.4 L389.3,444.9 L390.3,447.5 L391.3,450.2 L392.3,452.9 L393.3,455.8 L394.3,458.6 L395.3,461.6 L396.3,464.5 L397.3,467.5 L398.3,470.4 L399.3,473.2 L400.3,475.9 L401.3,478.5 L402.3,480.8 L403.3,482.9 L404.3,484.8 L405.3,486.5 L406.3,488.0 L407.3,489.4 L408.3,490.6 L409.3,491.7 L410.3,492.6 L411.3,493.4 L412.3,494.0 L413.3,494.5 L414.3,494.9 L415.3,495.2 L416.3,495.4 L417.3,495.5 L418.3,495.5 L419.3,495.5 L420.3,495.4 L421.3,495.3 L422.3,495.2 L423.3,495.0 L424.3,494.8 L425.3,494.6 L426.3,494.4 L427.3,494.2 L428.3,494.0 L429.3,493.7 L430.3,493.5 L431.3,493.3 L432.3,493.0 L433.3,492.8 L434.3,492.6 L435.3,492.3 L436.3,492.1 L437.3,491.9 L438.3,491.7 L439.3,491.5 L440.3,491.3 L441.3,491.1 L442.3,490.9 L443.3,490.8 L444.3,490.7 L445.3,490.6 L446.3,490.5 L447.3,490.4 L448.3,490.3 L449.3,490.3 L450.3,490.3 L451.3,490.3 L452.3,490.4 L453.3,490.4 L454.3,490.5 L455.3,490.7 L456.3,490.8 L457.3,491.0 L458.3,491.2 L459.3,491.4 L460.3,491.6 L461.3,491.9 L462.3,492.1 L463.3,492.4 L464.3,492.7 L465.3,493.1 L466.3,493.4 L467.3,493.9 L468.3,494.3 L469.3,494.8 L470.3,495.3 L471.3,495.9 L472.3,496.5 L473.3,497.1 L474.3,497.7 L475.3,498.4 L476.3,499.1 L477.3,499.8 L478.3,500.6 L479.3,501.4 L480.3,502.2 L481.3,503.0 L482.3,503.9 L483.3,504.8 L484.3,505.7 L485.3,506.7 L486.3,507.6 L487.3,508.6 L488.3,509.6 L489.3,510.6 L490.3,511.6 L491.3,512.7 L492.3,513.8 L493.3,514.8 L494.3,516.0 L495.3,517.1 L496.3,518.2 L497.3,519.4 L498.3,520.6 L499.3,521.8 L500.3,523.0 L501.3,524.2 L502.3,525.4 L503.3,526.7 L504.3,527.9 L505.3,529.1 L506.3,530.4 L507.3,531.6 L508.3,532.9 L509.3,534.1 L510.3,535.4 L511.3,536.6 L512.3,537.8 L513.3,539.1 L514.3,540.3 L515.3,541.6 L516.3,542.9 L517.3,544.1 L518.3,545.4 L519.3,546.7 L520.3,548.0 L521.3,549.3 L522.3,550.6 L523.3,551.9 L524.3,553.2 L525.3,554.6 L526.3,555.9 L527.3,557.2 L528.3,558.6 L529.3,559.9 L530.3,561.2 L531.3,562.6 L532.3,563.9 L533.3,565.2 L534.3,566.6 L535.3,567.9 L536.3,569.3 L537.3,570.7 L538.3,572.1 L539.3,573.4 L540.3,574.8 L541.3,576.2 L542.3,577.6 L543.3,579.0 L544.3,580.3 L545.3,581.7 L546.3,583.1 L547.3,584.4 L548.3,585.8 L549.3,587.2 L550.3,588.5 L551.3,589.9 L552.3,591.2 L553.3,592.6 L554.3,593.9 L555.3,595.2 L556.3,596.6 L557.3,597.9 L558.3,599.3 L559.3,600.6 L560.3,601.9 L561.3,603.3 L562.3,604.6 L563.3,605.9 L564.3,607.2 L565.3,608.5 L566.3,609.7 L567.3,611.0 L568.3,612.2 L569.3,613.3 L570.3,614.4 L571.3,615.5 L572.3,616.5 L573.3,617.5 L574.3,618.4 L575.3,619.3 L576.3,620.1 L577.3,620.9 L578.3,621.7 L579.3,622.4 L580.3,623.1 L581.3,623.8 L582.3,624.5 L583.3,625.1 L584.3,625.8 L585.3,626.4 L586.3,627.0 L587.3,627.6 L588.3,628.1 L589.3,628.7 L590.3,629.2 L591.3,629.7 L592.3,630.2 L593.3,630.7 L594.3,631.2 L595.3,631.6 L596.3,632.1 L597.3,632.5 L598.3,632.8 L599.3,633.2 L600.3,633.5 L601.3,633.9 L602.3,634.2 L603.3,634.4 L604.3,634.7 L605.3,634.9 L606.3,635.1 L607.3,635.3 L608.3,635.5 L609.3,635.7 L610.3,635.9 L611.3,636.0 L612.3,636.1 L613.3,636.3 L614.3,636.4 L615.3,636.5 L616.3,636.6 L617.3,636.7 L618.3,636.8 L619.3,637.0 L620.3,637.1 L621.3,637.2 L622.3,637.3 L623.3,637.4 L624.3,637.5 L625.3,637.6 L626.3,637.7 L627.3,637.8 L628.3,637.8 L629.3,637.9 L630.3,638.0 L631.3,638.1 L632.3,638.2 L633.3,638.2 L634.3,638.3 L635.3,638.4 L636.3,638.4 L637.3,638.5 L638.3,638.5 L639.3,638.6 L640.3,638.7 L641.3,638.7 L642.3,638.8 L643.3,638.8 L644.3,638.9 L645.3,638.9 L646.3,639.0 L647.3,639.0 L648.3,639.1 L649.3,639.2 L650.3,639.2 L651.3,639.3 L652.3,639.3 L653.3,639.4 L654.3,639.4 L655.3,639.5 L656.3,639.5 L657.3,639.6 L658.3,639.6 L659.3,639.7 L660.3,639.8 L661.3,639.8 L662.3,639.9 L663.3,639.9 L664.3,640.0 L665.3,640.0 L666.3,640.1 L667.3,640.2 L668.3,640.2 L669.3,640.3 L670.3,640.3 L671.3,640.4 L672.3,640.4 L673.3,640.5 L674.3,640.6 L675.3,640.6 L676.3,640.7 L677.3,640.7 L678.3,640.8 L679.3,640.8 L680.3,640.9 L681.3,640.9 L682.3,641.0 L683.3,641.0 L684.3,641.1 L685.3,641.1 L686.3,641.2 L687.3,641.2 L688.3,641.3 L689.3,641.3 L690.3,641.3 L691.3,641.4 L692.3,641.4 L693.3,641.4 L694.3,641.4 L695.3,641.5 L696.3,641.5 L697.3,641.5 L698.3,641.5 L699.3,641.5 L700.0,641.6 L705.0,641.8 L710.0,642.1 L715.0,642.6 L720.0,643.0 L725.0,643.5 L730.0,643.9 L735.0,644.2 L740.0,644.3 L745.0,644.4 L750.0,644.5 L755.0,644.6 L760.0,644.6 L765.0,644.7 L770.0,644.7 L775.0,644.8 L780.0,644.8 L785.0,644.8 L790.0,644.8 L795.0,644.8 L800.0,644.8 L805.0,644.8 L810.0,644.9 L815.0,644.9 L820.0,644.9 L825.0,644.9 L830.0,644.9 L835.0,644.9 L840.0,644.9 L845.0,644.9 L850.0,645.0 L855.0,645.0 L860.0,645.0 L865.0,645.0 L870.0,645.0 L875.0,645.0 L880.0,645.0 L885.0,645.0 L890.0,645.0 L895.0,645.0 L900.0,645.0 L905.0,645.1 L910.0,645.1 L915.0,645.1 L920.0,645.1 L925.0,645.1 L930.0,645.1 L935.0,645.1 L940.0,645.1 L945.0,645.1 L950.0,645.1 L955.0,645.1 L960.0,645.1 L965.0,645.1 L970.0,645.1 L975.0,645.1 L980.0,645.1 L985.0,645.1 L990.0,645.2 L995.0,645.2 L1000.0,645.2 L1005.0,645.2 L1010.0,645.2 L1015.0,645.2 L1020.0,645.2 L1025.0,645.2 L1027.0,645.2" stroke="#000080" stroke-width="2.9"/>
<path transform="scale(1,1.05)" d="M167.0,96.1 L172.3,95.5 L173.3,95.1 L174.3,94.7 L175.3,94.3 L176.3,98.8 L177.3,104.0 L178.3,107.6 L179.3,111.4 L180.3,115.4 L181.3,119.7 L182.3,124.1 L183.3,128.9 L184.3,134.4 L185.3,140.8 L186.3,148.1 L187.3,156.0 L188.3,164.5 L189.3,173.0 L190.3,182.1 L191.3,191.7 L192.3,201.5 L193.3,211.6 L194.3,221.9 L195.3,232.2 L196.3,242.7 L197.3,253.1 L198.3,263.6 L199.3,274.1 L200.3,284.5 L201.3,295.0 L202.3,305.3 L203.3,315.6 L204.3,325.7 L205.3,335.6 L206.3,345.2 L207.3,354.4 L208.3,363.1 L209.3,371.5 L210.3,379.4 L211.3,386.9 L212.3,394.1 L213.3,401.2 L214.3,408.1 L215.3,415.1 L216.3,422.0 L217.3,428.9 L218.3,435.9 L219.3,442.7 L220.3,449.3 L221.3,455.7 L222.3,461.6 L223.3,467.1 L224.3,472.1 L225.3,476.5 L226.3,480.5 L227.3,484.1 L228.3,487.3 L229.3,490.2 L230.3,492.9 L231.3,495.3 L232.3,497.7 L233.3,499.9 L234.3,501.9 L235.3,503.9 L236.3,505.8 L237.3,507.5 L238.3,509.1 L239.3,510.6 L240.3,511.9 L241.3,513.1 L242.3,514.1 L243.3,515.0 L244.3,515.7 L245.3,516.2 L246.3,516.6 L247.3,516.8 L248.3,516.9 L249.3,516.8 L250.3,516.6 L251.3,516.3 L252.3,515.9 L253.3,515.4 L254.3,514.8 L255.3,514.0 L256.3,513.2 L257.3,512.2 L258.3,511.2 L259.3,510.0 L260.3,508.8 L261.3,507.6 L262.3,506.2 L263.3,504.9 L264.3,503.5 L265.3,502.0 L266.3,500.6 L267.3,499.2 L268.3,497.7 L269.3,496.2 L270.3,494.7 L271.3,493.1 L272.3,491.4 L273.3,489.7 L274.3,487.9 L275.3,485.9 L276.3,483.9 L277.3,481.8 L278.3,479.6 L279.3,477.4 L280.3,475.2 L281.3,472.9 L282.3,470.7 L283.3,468.4 L284.3,466.1 L285.3,463.9 L286.3,461.6 L287.3,459.4 L288.3,457.1 L289.3,454.9 L290.3,452.6 L291.3,450.4 L292.3,448.1 L293.3,445.9 L294.3,443.6 L295.3,441.3 L296.3,439.0 L297.3,436.7 L298.3,434.4 L299.3,432.0 L300.3,429.6 L301.3,427.2 L302.3,424.8 L303.3,422.3 L304.3,419.8 L305.3,417.3 L306.3,414.8 L307.3,412.2 L308.3,409.6 L309.3,407.0 L310.3,404.4 L311.3,401.8 L312.3,399.2 L313.3,396.7 L314.3,394.2 L315.3,391.9 L316.3,389.6 L317.3,387.5 L318.3,385.6 L319.3,383.8 L320.3,382.2 L321.3,380.8 L322.3,379.6 L323.3,378.4 L324.3,377.5 L325.3,376.6 L326.3,375.9 L327.3,375.3 L328.3,374.7 L329.3,374.3 L330.3,373.9 L331.3,373.6 L332.3,373.4 L333.3,373.2 L334.3,373.2 L335.3,373.2 L336.3,373.2 L337.3,373.3 L338.3,373.5 L339.3,373.8 L340.3,374.1 L341.3,374.5 L342.3,375.0 L343.3,375.6 L344.3,376.2 L345.3,376.8 L346.3,377.6 L347.3,378.4 L348.3,379.3 L349.3,380.2 L350.3,381.2 L351.3,382.4 L352.3,383.6 L353.3,384.9 L354.3,386.4 L355.3,388.1 L356.3,389.9 L357.3,391.9 L358.3,394.1 L359.3,396.4 L360.3,398.9 L361.3,401.5 L362.3,404.2 L363.3,407.0 L364.3,409.9 L365.3,412.8 L366.3,415.8 L367.3,418.8 L368.3,421.8 L369.3,424.7 L370.3,427.7 L371.3,430.5 L372.3,433.3 L373.3,436.0 L374.3,438.7 L375.3,441.3 L376.3,443.8 L377.3,446.4 L378.3,448.9 L379.3,451.4 L380.3,454.0 L381.3,456.7 L382.3,459.3 L383.3,462.1 L384.3,464.8 L385.3,467.6 L386.3,470.4 L387.3,473.3 L388.3,476.2 L389.3,479.1 L390.3,482.1 L391.3,485.2 L392.3,488.3 L393.3,491.5 L394.3,494.8 L395.3,498.2 L396.3,501.6 L397.3,504.9 L398.3,508.3 L399.3,511.5 L400.3,514.6 L401.3,517.5 L402.3,520.2 L403.3,522.7 L404.3,524.9 L405.3,526.9 L406.3,528.7 L407.3,530.3 L408.3,531.7 L409.3,533.0 L410.3,534.1 L411.3,535.1 L412.3,535.9 L413.3,536.6 L414.3,537.1 L415.3,537.5 L416.3,537.8 L417.3,538.0 L418.3,538.1 L419.3,538.2 L420.3,538.1 L421.3,538.1 L422.3,538.0 L423.3,537.9 L424.3,537.8 L425.3,537.6 L426.3,537.5 L427.3,537.3 L428.3,537.1 L429.3,536.9 L430.3,536.7 L431.3,536.5 L432.3,536.3 L433.3,536.1 L434.3,535.9 L435.3,535.7 L436.3,535.5 L437.3,535.3 L438.3,535.2 L439.3,535.0 L440.3,534.8 L441.3,534.7 L442.3,534.5 L443.3,534.4 L444.3,534.3 L445.3,534.2 L446.3,534.2 L447.3,534.1 L448.3,534.1 L449.3,534.1 L450.3,534.1 L451.3,534.2 L452.3,534.3 L453.3,534.4 L454.3,534.5 L455.3,534.7 L456.3,534.9 L457.3,535.1 L458.3,535.3 L459.3,535.6 L460.3,535.8 L461.3,536.1 L462.3,536.4 L463.3,536.8 L464.3,537.1 L465.3,537.5 L466.3,537.9 L467.3,538.4 L468.3,538.9 L469.3,539.4 L470.3,540.0 L471.3,540.6 L472.3,541.2 L473.3,541.9 L474.3,542.6 L475.3,543.3 L476.3,544.1 L477.3,544.9 L478.3,545.7 L479.3,546.5 L480.3,547.4 L481.3,548.3 L482.3,549.2 L483.3,550.1 L484.3,551.1 L485.3,552.1 L486.3,553.1 L487.3,554.1 L488.3,555.1 L489.3,556.2 L490.3,557.3 L491.3,558.3 L492.3,559.4 L493.3,560.6 L494.3,561.7 L495.3,562.9 L496.3,564.1 L497.3,565.3 L498.3,566.5 L499.3,567.7 L500.3,569.0 L501.3,570.3 L502.3,571.5 L503.3,572.8 L504.3,574.1 L505.3,575.4 L506.3,576.7 L507.3,578.0 L508.3,579.2 L509.3,580.5 L510.3,581.8 L511.3,583.1 L512.3,584.4 L513.3,585.7 L514.3,587.0 L515.3,588.3 L516.3,589.6 L517.3,590.9 L518.3,592.2 L519.3,593.5 L520.3,594.8 L521.3,596.2 L522.3,597.5 L523.3,598.8 L524.3,600.1 L525.3,601.5 L526.3,602.8 L527.3,604.2 L528.3,605.5 L529.3,606.8 L530.3,608.2 L531.3,609.5 L532.3,610.9 L533.3,612.2 L534.3,613.6 L535.3,614.9 L536.3,616.3 L537.3,617.6 L538.3,619.0 L539.3,620.4 L540.3,621.8 L541.3,623.1 L542.3,624.5 L543.3,625.9 L544.3,627.3 L545.3,628.6 L546.3,630.0 L547.3,631.4 L548.3,632.7 L549.3,634.1 L550.3,635.4 L551.3,636.8 L552.3,638.2 L553.3,639.5 L554.3,640.9 L555.3,642.2 L556.3,643.6 L557.3,645.0 L558.3,646.3 L559.3,647.7 L560.3,649.1 L561.3,650.4 L562.3,651.8 L563.3,653.1 L564.3,654.5 L565.3,655.8 L566.3,657.1 L567.3,658.3 L568.3,659.6 L569.3,660.7 L570.3,661.9 L571.3,663.0 L572.3,664.0 L573.3,665.0 L574.3,666.0 L575.3,666.9 L576.3,667.8 L577.3,668.6 L578.3,669.4 L579.3,670.2 L580.3,670.9 L581.3,671.6 L582.3,672.3 L583.3,673.0 L584.3,673.6 L585.3,674.3 L586.3,674.9 L587.3,675.5 L588.3,676.1 L589.3,676.7 L590.3,677.3 L591.3,677.8 L592.3,678.4 L593.3,678.9 L594.3,679.4 L595.3,679.9 L596.3,680.3 L597.3,680.7 L598.3,681.1 L599.3,681.5 L600.3,681.9 L601.3,682.2 L602.3,682.5 L603.3,682.8 L604.3,683.1 L605.3,683.4 L606.3,683.6 L607.3,683.8 L608.3,684.0 L609.3,684.2 L610.3,684.4 L611.3,684.5 L612.3,684.6 L613.3,684.8 L614.3,684.9 L615.3,685.0 L616.3,685.2 L617.3,685.3 L618.3,685.4 L619.3,685.5 L620.3,685.6 L621.3,685.7 L622.3,685.8 L623.3,685.9 L624.3,686.0 L625.3,686.1 L626.3,686.2 L627.3,686.3 L628.3,686.4 L629.3,686.5 L630.3,686.6 L631.3,686.7 L632.3,686.8 L633.3,686.8 L634.3,686.9 L635.3,687.0 L636.3,687.1 L637.3,687.1 L638.3,687.2 L639.3,687.3 L640.3,687.3 L641.3,687.4 L642.3,687.4 L643.3,687.5 L644.3,687.5 L645.3,687.6 L646.3,687.7 L647.3,687.7 L648.3,687.8 L649.3,687.8 L650.3,687.9 L651.3,688.0 L652.3,688.0 L653.3,688.1 L654.3,688.1 L655.3,688.2 L656.3,688.3 L657.3,688.3 L658.3,688.4 L659.3,688.4 L660.3,688.5 L661.3,688.6 L662.3,688.6 L663.3,688.7 L664.3,688.7 L665.3,688.8 L666.3,688.9 L667.3,688.9 L668.3,689.0 L669.3,689.0 L670.3,689.1 L671.3,689.2 L672.3,689.2 L673.3,689.3 L674.3,689.4 L675.3,689.4 L676.3,689.5 L677.3,689.5 L678.3,689.6 L679.3,689.7 L680.3,689.7 L681.3,689.8 L682.3,689.8 L683.3,689.9 L684.3,689.9 L685.3,690.0 L686.3,690.0 L687.3,690.1 L688.3,690.1 L689.3,690.2 L690.3,690.2 L691.3,690.2 L692.3,690.3 L693.3,690.3 L694.3,690.3 L695.3,690.3 L696.3,690.4 L697.3,690.4 L698.3,690.4 L699.3,690.4 L700.0,690.5 L705.0,690.7 L710.0,691.0 L715.0,691.5 L720.0,692.0 L725.0,692.5 L730.0,693.0 L735.0,693.3 L740.0,693.4 L745.0,693.5 L750.0,693.6 L755.0,693.7 L760.0,693.7 L765.0,693.8 L770.0,693.8 L775.0,693.9 L780.0,693.9 L785.0,693.9 L790.0,693.9 L795.0,693.9 L800.0,694.0 L805.0,694.0 L810.0,694.0 L815.0,694.0 L820.0,694.0 L825.0,694.0 L830.0,694.0 L835.0,694.1 L840.0,694.1 L845.0,694.1 L850.0,694.1 L855.0,694.1 L860.0,694.1 L865.0,694.1 L870.0,694.1 L875.0,694.1 L880.0,694.2 L885.0,694.2 L890.0,694.2 L895.0,694.2 L900.0,694.2 L905.0,694.2 L910.0,694.2 L915.0,694.2 L920.0,694.2 L925.0,694.2 L930.0,694.2 L935.0,694.2 L940.0,694.2 L945.0,694.3 L950.0,694.3 L955.0,694.3 L960.0,694.3 L965.0,694.3 L970.0,694.3 L975.0,694.3 L980.0,694.3 L985.0,694.3 L990.0,694.3 L995.0,694.3 L1000.0,694.3 L1005.0,694.3 L1010.0,694.3 L1015.0,694.3 L1020.0,694.3 L1025.0,694.3 L1027.0,694.3" stroke="#ff0000" stroke-width="9.1"/>
</g></g>
<path d="M736.7,48.2 H818.7" stroke="#000000" stroke-width="11.1"/>
<text transform="translate(829.0,61.5) scale(1,1.055)" font-size="35.6" text-anchor="start" xml:space="preserve"><tspan font-style="italic">E</tspan>-7a</text>
<path d="M736.7,92.2 H818.7" stroke="#00ff00" stroke-width="4.4"/>
<text transform="translate(829.0,105.3) scale(1,1.055)" font-size="35.6" text-anchor="start" xml:space="preserve">    5s, 350nm</text>
<path d="M736.7,136.2 H818.7" stroke="#0000ff" stroke-width="4.4"/>
<text transform="translate(829.0,149.1) scale(1,1.055)" font-size="35.6" text-anchor="start" xml:space="preserve">  10s, 350nm</text>
<path d="M736.7,180.2 H818.7" stroke="#008000" stroke-width="4.4"/>
<text transform="translate(829.0,192.9) scale(1,1.055)" font-size="35.6" text-anchor="start" xml:space="preserve">  15s, 350nm</text>
<path d="M736.7,225.4 H818.7" stroke="#800080" stroke-width="4.4"/>
<text transform="translate(829.0,236.7) scale(1,1.055)" font-size="35.6" text-anchor="start" xml:space="preserve">  20s, 350nm</text>
<path d="M736.7,269.4 H818.7" stroke="#dc9614" stroke-width="4.4"/>
<text transform="translate(829.0,280.5) scale(1,1.055)" font-size="35.6" text-anchor="start" xml:space="preserve">  30s, 350nm</text>
<path d="M736.7,313.2 H818.7" stroke="#00cdd2" stroke-width="4.4"/>
<text transform="translate(829.0,324.3) scale(1,1.055)" font-size="35.6" text-anchor="start" xml:space="preserve">  60s, 350nm</text>
<path d="M736.7,356.9 H818.7" stroke="#8c5055" stroke-width="4.4"/>
<text transform="translate(829.0,368.1) scale(1,1.055)" font-size="35.6" text-anchor="start" xml:space="preserve">120s, 350nm</text>
<path d="M736.7,400.3 H818.7" stroke="#000080" stroke-width="4.4"/>
<text transform="translate(829.0,411.9) scale(1,1.055)" font-size="35.6" text-anchor="start" xml:space="preserve">180s, 350nm</text>
<path d="M736.7,444.3 H818.7" stroke="#ff0000" stroke-width="11.3"/>
<text transform="translate(829.0,455.7) scale(1,1.055)" font-size="35.6" text-anchor="start" xml:space="preserve">240s, 350nm</text>
<text transform="translate(172.0,781.0) scale(1,1.055)" font-size="35.6" text-anchor="middle" xml:space="preserve">200</text>
<text transform="translate(343.4,781.0) scale(1,1.055)" font-size="35.6" text-anchor="middle" xml:space="preserve">250</text>
<text transform="translate(514.3,781.0) scale(1,1.055)" font-size="35.6" text-anchor="middle" xml:space="preserve">300</text>
<text transform="translate(684.2,781.0) scale(1,1.055)" font-size="35.6" text-anchor="middle" xml:space="preserve">350</text>
<text transform="translate(855.3,781.0) scale(1,1.055)" font-size="35.6" text-anchor="middle" xml:space="preserve">400</text>
<text transform="translate(1024.9,781.0) scale(1,1.055)" font-size="35.6" text-anchor="middle" xml:space="preserve">450</text>
<text transform="translate(149.8,743.1) scale(1,1.055)" font-size="35.6" text-anchor="end" xml:space="preserve">0,0</text>
<text transform="translate(149.8,570.8) scale(1,1.055)" font-size="35.6" text-anchor="end" xml:space="preserve">0,1</text>
<text transform="translate(149.8,398.5) scale(1,1.055)" font-size="35.6" text-anchor="end" xml:space="preserve">0,2</text>
<text transform="translate(149.8,226.7) scale(1,1.055)" font-size="35.6" text-anchor="end" xml:space="preserve">0,3</text>
<text transform="translate(149.8,53.8) scale(1,1.055)" font-size="35.6" text-anchor="end" xml:space="preserve">0,4</text>
 <text x="600.6" y="846" font-size="42.4" text-anchor="middle">wavelength [nm]</text>
<text transform="translate(59,369.8) rotate(-90)" font-size="42.4" text-anchor="middle">absorbance [a.u.]</text>
</svg>
</body></html>
